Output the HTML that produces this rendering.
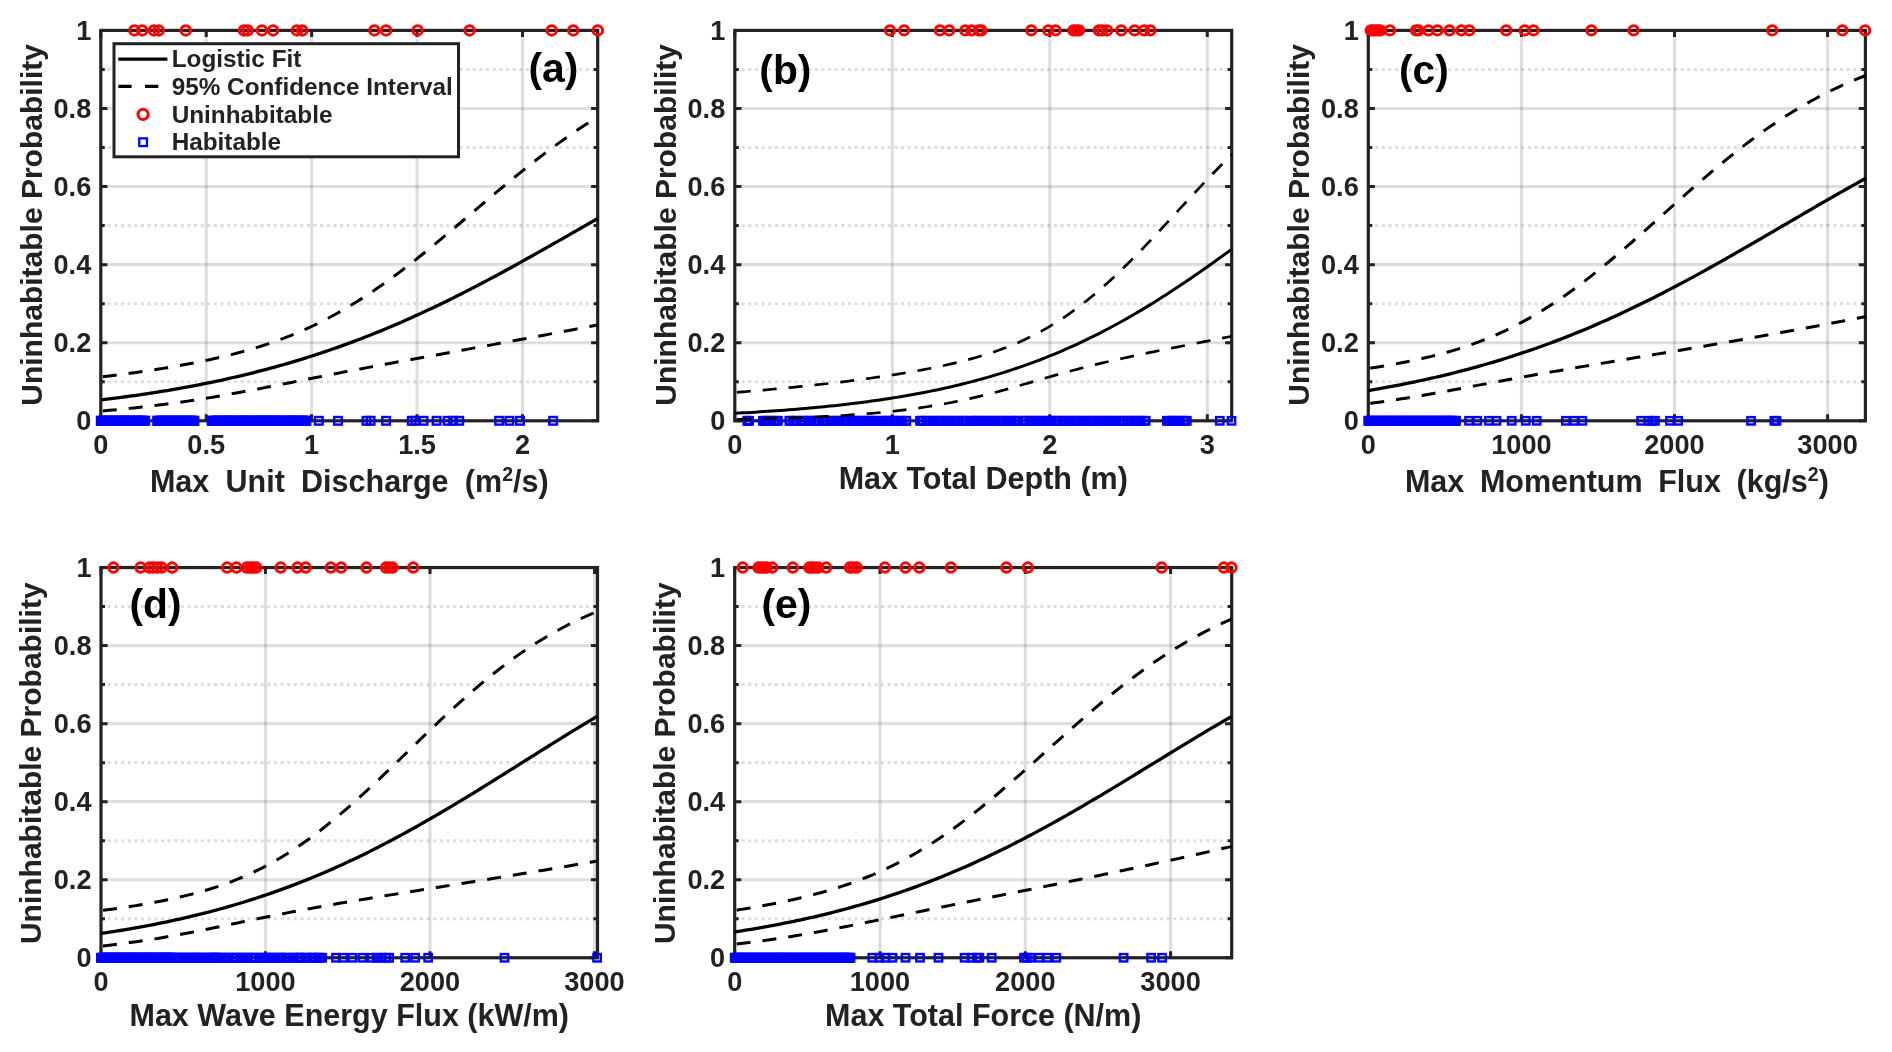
<!DOCTYPE html>
<html lang="en"><head><meta charset="utf-8"><title>Logistic fits</title>
<style>html,body{margin:0;padding:0;background:#fff}svg{display:block;will-change:transform}text{font-family:"Liberation Sans", sans-serif;font-weight:bold}</style></head><body>
<svg width="1892" height="1052" viewBox="0 0 1892 1052">
<rect width="1892" height="1052" fill="#fff"/>
<g id="panel-a">
<line x1="101" y1="381.76" x2="597.7" y2="381.76" stroke="#222222" stroke-opacity=".15" stroke-width="3.1" stroke-dasharray="3.1 3.54"/><line x1="100.8" y1="342.72" x2="597.7" y2="342.72" stroke="#222222" stroke-opacity=".15" stroke-width="3.1"/><line x1="101" y1="303.68" x2="597.7" y2="303.68" stroke="#222222" stroke-opacity=".15" stroke-width="3.1" stroke-dasharray="3.1 3.54"/><line x1="100.8" y1="264.64" x2="597.7" y2="264.64" stroke="#222222" stroke-opacity=".15" stroke-width="3.1"/><line x1="101" y1="225.6" x2="597.7" y2="225.6" stroke="#222222" stroke-opacity=".15" stroke-width="3.1" stroke-dasharray="3.1 3.54"/><line x1="100.8" y1="186.56" x2="597.7" y2="186.56" stroke="#222222" stroke-opacity=".15" stroke-width="3.1"/><line x1="101" y1="147.52" x2="597.7" y2="147.52" stroke="#222222" stroke-opacity=".15" stroke-width="3.1" stroke-dasharray="3.1 3.54"/><line x1="100.8" y1="108.48" x2="597.7" y2="108.48" stroke="#222222" stroke-opacity=".15" stroke-width="3.1"/><line x1="101" y1="69.44" x2="597.7" y2="69.44" stroke="#222222" stroke-opacity=".15" stroke-width="3.1" stroke-dasharray="3.1 3.54"/><line x1="206.22" y1="30.4" x2="206.22" y2="420.8" stroke="#222222" stroke-opacity=".15" stroke-width="3.1"/><line x1="311.65" y1="30.4" x2="311.65" y2="420.8" stroke="#222222" stroke-opacity=".15" stroke-width="3.1"/><line x1="417.07" y1="30.4" x2="417.07" y2="420.8" stroke="#222222" stroke-opacity=".15" stroke-width="3.1"/><line x1="522.5" y1="30.4" x2="522.5" y2="420.8" stroke="#222222" stroke-opacity=".15" stroke-width="3.1"/>
<path d="M100.8 420.8h6.6 M597.7 420.8h-6.6 M100.8 381.76h4 M597.7 381.76h-4 M100.8 342.72h6.6 M597.7 342.72h-6.6 M100.8 303.68h4 M597.7 303.68h-4 M100.8 264.64h6.6 M597.7 264.64h-6.6 M100.8 225.6h4 M597.7 225.6h-4 M100.8 186.56h6.6 M597.7 186.56h-6.6 M100.8 147.52h4 M597.7 147.52h-4 M100.8 108.48h6.6 M597.7 108.48h-6.6 M100.8 69.44h4 M597.7 69.44h-4 M100.8 30.4h6.6 M597.7 30.4h-6.6 M100.8 420.8v-6.5 M100.8 30.4v6.5 M206.22 420.8v-6.5 M206.22 30.4v6.5 M311.65 420.8v-6.5 M311.65 30.4v6.5 M417.07 420.8v-6.5 M417.07 30.4v6.5 M522.5 420.8v-6.5 M522.5 30.4v6.5" stroke="#222222" stroke-width="3" fill="none"/>
<rect x="100.8" y="30.4" width="496.9" height="390.4" fill="none" stroke="#222222" stroke-width="3.2"/>
<g fill="none" stroke="#0000ff" stroke-width="2.4"><rect x="97" y="417" width="7.6" height="7.6"/><rect x="141.4" y="417" width="7.6" height="7.6"/><rect x="97.2" y="417" width="7.6" height="7.6"/><rect x="99.2" y="417" width="7.6" height="7.6"/><rect x="99.8" y="417" width="7.6" height="7.6"/><rect x="101.6" y="417" width="7.6" height="7.6"/><rect x="102.8" y="417" width="7.6" height="7.6"/><rect x="103.7" y="417" width="7.6" height="7.6"/><rect x="104.9" y="417" width="7.6" height="7.6"/><rect x="105.4" y="417" width="7.6" height="7.6"/><rect x="107.7" y="417" width="7.6" height="7.6"/><rect x="108.8" y="417" width="7.6" height="7.6"/><rect x="109.4" y="417" width="7.6" height="7.6"/><rect x="110.3" y="417" width="7.6" height="7.6"/><rect x="111.9" y="417" width="7.6" height="7.6"/><rect x="113.4" y="417" width="7.6" height="7.6"/><rect x="114.8" y="417" width="7.6" height="7.6"/><rect x="115.3" y="417" width="7.6" height="7.6"/><rect x="116.6" y="417" width="7.6" height="7.6"/><rect x="117.7" y="417" width="7.6" height="7.6"/><rect x="119.1" y="417" width="7.6" height="7.6"/><rect x="120" y="417" width="7.6" height="7.6"/><rect x="122" y="417" width="7.6" height="7.6"/><rect x="122.5" y="417" width="7.6" height="7.6"/><rect x="124.1" y="417" width="7.6" height="7.6"/><rect x="124.7" y="417" width="7.6" height="7.6"/><rect x="126.7" y="417" width="7.6" height="7.6"/><rect x="127.1" y="417" width="7.6" height="7.6"/><rect x="128.3" y="417" width="7.6" height="7.6"/><rect x="130" y="417" width="7.6" height="7.6"/><rect x="131.7" y="417" width="7.6" height="7.6"/><rect x="132.5" y="417" width="7.6" height="7.6"/><rect x="133.9" y="417" width="7.6" height="7.6"/><rect x="134.7" y="417" width="7.6" height="7.6"/><rect x="136.6" y="417" width="7.6" height="7.6"/><rect x="136.9" y="417" width="7.6" height="7.6"/><rect x="137.8" y="417" width="7.6" height="7.6"/><rect x="139.7" y="417" width="7.6" height="7.6"/><rect x="140.8" y="417" width="7.6" height="7.6"/><rect x="153.5" y="417" width="7.6" height="7.6"/><rect x="190.6" y="417" width="7.6" height="7.6"/><rect x="153.8" y="417" width="7.6" height="7.6"/><rect x="154.9" y="417" width="7.6" height="7.6"/><rect x="156.8" y="417" width="7.6" height="7.6"/><rect x="157.6" y="417" width="7.6" height="7.6"/><rect x="158.8" y="417" width="7.6" height="7.6"/><rect x="161.1" y="417" width="7.6" height="7.6"/><rect x="162.4" y="417" width="7.6" height="7.6"/><rect x="162.7" y="417" width="7.6" height="7.6"/><rect x="163.7" y="417" width="7.6" height="7.6"/><rect x="166" y="417" width="7.6" height="7.6"/><rect x="166.9" y="417" width="7.6" height="7.6"/><rect x="168.5" y="417" width="7.6" height="7.6"/><rect x="168.9" y="417" width="7.6" height="7.6"/><rect x="171.3" y="417" width="7.6" height="7.6"/><rect x="172.4" y="417" width="7.6" height="7.6"/><rect x="173.8" y="417" width="7.6" height="7.6"/><rect x="174" y="417" width="7.6" height="7.6"/><rect x="175.9" y="417" width="7.6" height="7.6"/><rect x="177.6" y="417" width="7.6" height="7.6"/><rect x="177.9" y="417" width="7.6" height="7.6"/><rect x="179.9" y="417" width="7.6" height="7.6"/><rect x="181.1" y="417" width="7.6" height="7.6"/><rect x="182.4" y="417" width="7.6" height="7.6"/><rect x="183.6" y="417" width="7.6" height="7.6"/><rect x="184.7" y="417" width="7.6" height="7.6"/><rect x="186.5" y="417" width="7.6" height="7.6"/><rect x="187.3" y="417" width="7.6" height="7.6"/><rect x="188.8" y="417" width="7.6" height="7.6"/><rect x="190.3" y="417" width="7.6" height="7.6"/><rect x="207.8" y="417" width="7.6" height="7.6"/><rect x="302.6" y="417" width="7.6" height="7.6"/><rect x="208.5" y="417" width="7.6" height="7.6"/><rect x="209.3" y="417" width="7.6" height="7.6"/><rect x="211.3" y="417" width="7.6" height="7.6"/><rect x="212.6" y="417" width="7.6" height="7.6"/><rect x="212.9" y="417" width="7.6" height="7.6"/><rect x="214" y="417" width="7.6" height="7.6"/><rect x="215.4" y="417" width="7.6" height="7.6"/><rect x="216.8" y="417" width="7.6" height="7.6"/><rect x="218" y="417" width="7.6" height="7.6"/><rect x="219.8" y="417" width="7.6" height="7.6"/><rect x="220.6" y="417" width="7.6" height="7.6"/><rect x="221.7" y="417" width="7.6" height="7.6"/><rect x="222.5" y="417" width="7.6" height="7.6"/><rect x="224" y="417" width="7.6" height="7.6"/><rect x="225.7" y="417" width="7.6" height="7.6"/><rect x="226.5" y="417" width="7.6" height="7.6"/><rect x="227" y="417" width="7.6" height="7.6"/><rect x="228.6" y="417" width="7.6" height="7.6"/><rect x="229.4" y="417" width="7.6" height="7.6"/><rect x="231.2" y="417" width="7.6" height="7.6"/><rect x="232.9" y="417" width="7.6" height="7.6"/><rect x="234" y="417" width="7.6" height="7.6"/><rect x="234.2" y="417" width="7.6" height="7.6"/><rect x="236.4" y="417" width="7.6" height="7.6"/><rect x="236.9" y="417" width="7.6" height="7.6"/><rect x="238.9" y="417" width="7.6" height="7.6"/><rect x="239.4" y="417" width="7.6" height="7.6"/><rect x="241.1" y="417" width="7.6" height="7.6"/><rect x="242" y="417" width="7.6" height="7.6"/><rect x="242.8" y="417" width="7.6" height="7.6"/><rect x="244.4" y="417" width="7.6" height="7.6"/><rect x="246" y="417" width="7.6" height="7.6"/><rect x="246.7" y="417" width="7.6" height="7.6"/><rect x="248" y="417" width="7.6" height="7.6"/><rect x="249.1" y="417" width="7.6" height="7.6"/><rect x="250.9" y="417" width="7.6" height="7.6"/><rect x="251.2" y="417" width="7.6" height="7.6"/><rect x="252.8" y="417" width="7.6" height="7.6"/><rect x="254.3" y="417" width="7.6" height="7.6"/><rect x="255.6" y="417" width="7.6" height="7.6"/><rect x="256.3" y="417" width="7.6" height="7.6"/><rect x="257.4" y="417" width="7.6" height="7.6"/><rect x="259.3" y="417" width="7.6" height="7.6"/><rect x="259.6" y="417" width="7.6" height="7.6"/><rect x="261.7" y="417" width="7.6" height="7.6"/><rect x="262.9" y="417" width="7.6" height="7.6"/><rect x="263" y="417" width="7.6" height="7.6"/><rect x="264.5" y="417" width="7.6" height="7.6"/><rect x="265.6" y="417" width="7.6" height="7.6"/><rect x="266.9" y="417" width="7.6" height="7.6"/><rect x="268.5" y="417" width="7.6" height="7.6"/><rect x="269.9" y="417" width="7.6" height="7.6"/><rect x="270.8" y="417" width="7.6" height="7.6"/><rect x="271.6" y="417" width="7.6" height="7.6"/><rect x="272.7" y="417" width="7.6" height="7.6"/><rect x="274.1" y="417" width="7.6" height="7.6"/><rect x="275.4" y="417" width="7.6" height="7.6"/><rect x="276.4" y="417" width="7.6" height="7.6"/><rect x="277.6" y="417" width="7.6" height="7.6"/><rect x="279.3" y="417" width="7.6" height="7.6"/><rect x="280.3" y="417" width="7.6" height="7.6"/><rect x="281.8" y="417" width="7.6" height="7.6"/><rect x="283.2" y="417" width="7.6" height="7.6"/><rect x="283.5" y="417" width="7.6" height="7.6"/><rect x="284.8" y="417" width="7.6" height="7.6"/><rect x="286.1" y="417" width="7.6" height="7.6"/><rect x="288" y="417" width="7.6" height="7.6"/><rect x="289.2" y="417" width="7.6" height="7.6"/><rect x="289.6" y="417" width="7.6" height="7.6"/><rect x="290.9" y="417" width="7.6" height="7.6"/><rect x="292.3" y="417" width="7.6" height="7.6"/><rect x="293" y="417" width="7.6" height="7.6"/><rect x="294.7" y="417" width="7.6" height="7.6"/><rect x="296.1" y="417" width="7.6" height="7.6"/><rect x="297.2" y="417" width="7.6" height="7.6"/><rect x="298.9" y="417" width="7.6" height="7.6"/><rect x="299.9" y="417" width="7.6" height="7.6"/><rect x="301.3" y="417" width="7.6" height="7.6"/><rect x="301.9" y="417" width="7.6" height="7.6"/><rect x="315" y="417" width="7.6" height="7.6"/><rect x="334.2" y="417" width="7.6" height="7.6"/><rect x="362.7" y="417" width="7.6" height="7.6"/><rect x="366.8" y="417" width="7.6" height="7.6"/><rect x="382.3" y="417" width="7.6" height="7.6"/><rect x="408" y="417" width="7.6" height="7.6"/><rect x="411.5" y="417" width="7.6" height="7.6"/><rect x="419.7" y="417" width="7.6" height="7.6"/><rect x="432.8" y="417" width="7.6" height="7.6"/><rect x="443.8" y="417" width="7.6" height="7.6"/><rect x="449.3" y="417" width="7.6" height="7.6"/><rect x="455.4" y="417" width="7.6" height="7.6"/><rect x="495.3" y="417" width="7.6" height="7.6"/><rect x="505.6" y="417" width="7.6" height="7.6"/><rect x="516.2" y="417" width="7.6" height="7.6"/><rect x="549.3" y="417" width="7.6" height="7.6"/></g>
<g fill="none" stroke="#ff0000" stroke-width="3.0"><circle cx="134.5" cy="30.4" r="4.75"/><circle cx="142.2" cy="30.4" r="4.75"/><circle cx="154" cy="30.4" r="4.75"/><circle cx="158.8" cy="30.4" r="4.75"/><circle cx="185.7" cy="30.4" r="4.75"/><circle cx="243.95" cy="30.4" r="4.75"/><circle cx="247.7" cy="30.4" r="4.75"/><circle cx="262" cy="30.4" r="4.75"/><circle cx="273.1" cy="30.4" r="4.75"/><circle cx="296.9" cy="30.4" r="4.75"/><circle cx="302.3" cy="30.4" r="4.75"/><circle cx="374.5" cy="30.4" r="4.75"/><circle cx="386.1" cy="30.4" r="4.75"/><circle cx="417.6" cy="30.4" r="4.75"/><circle cx="469.6" cy="30.4" r="4.75"/><circle cx="551.7" cy="30.4" r="4.75"/><circle cx="573.3" cy="30.4" r="4.75"/><circle cx="597.8" cy="30.4" r="4.75"/></g>
<path d="M100.8 399.9 L104.94 399.4 L109.08 398.9 L113.22 398.38 L117.36 397.85 L121.5 397.31 L125.64 396.76 L129.79 396.19 L133.93 395.61 L138.07 395.03 L142.21 394.42 L146.35 393.81 L150.49 393.18 L154.63 392.54 L158.77 391.88 L162.91 391.22 L167.05 390.53 L171.19 389.84 L175.33 389.12 L179.47 388.4 L183.61 387.66 L187.76 386.9 L191.9 386.13 L196.04 385.34 L200.18 384.53 L204.32 383.71 L208.46 382.88 L212.6 382.02 L216.74 381.15 L220.88 380.27 L225.02 379.36 L229.16 378.44 L233.3 377.5 L237.44 376.54 L241.59 375.57 L245.73 374.57 L249.87 373.56 L254.01 372.53 L258.15 371.47 L262.29 370.4 L266.43 369.31 L270.57 368.2 L274.71 367.07 L278.85 365.92 L282.99 364.75 L287.13 363.56 L291.27 362.35 L295.41 361.11 L299.56 359.86 L303.7 358.58 L307.84 357.29 L311.98 355.97 L316.12 354.63 L320.26 353.27 L324.4 351.88 L328.54 350.48 L332.68 349.05 L336.82 347.6 L340.96 346.13 L345.1 344.64 L349.24 343.12 L353.39 341.58 L357.53 340.02 L361.67 338.44 L365.81 336.83 L369.95 335.21 L374.09 333.56 L378.23 331.88 L382.37 330.19 L386.51 328.47 L390.65 326.73 L394.79 324.97 L398.93 323.19 L403.07 321.39 L407.21 319.56 L411.36 317.71 L415.5 315.85 L419.64 313.96 L423.78 312.05 L427.92 310.12 L432.06 308.16 L436.2 306.19 L440.34 304.2 L444.48 302.19 L448.62 300.16 L452.76 298.12 L456.9 296.05 L461.04 293.97 L465.19 291.87 L469.33 289.75 L473.47 287.61 L477.61 285.46 L481.75 283.29 L485.89 281.11 L490.03 278.91 L494.17 276.7 L498.31 274.47 L502.45 272.23 L506.59 269.98 L510.73 267.72 L514.87 265.44 L519.02 263.15 L523.16 260.86 L527.3 258.55 L531.44 256.23 L535.58 253.91 L539.72 251.58 L543.86 249.24 L548 246.89 L552.14 244.54 L556.28 242.18 L560.42 239.82 L564.56 237.45 L568.7 235.09 L572.84 232.71 L576.99 230.34 L581.13 227.97 L585.27 225.59 L589.41 223.22 L593.55 220.85 L597.69 218.48" stroke="#000" stroke-width="3.3" fill="none"/><path d="M100.8 377.07 L104.94 376.57 L109.08 376.05 L113.22 375.53 L117.36 374.99 L121.5 374.45 L125.64 373.89 L129.79 373.33 L133.93 372.75 L138.07 372.17 L142.21 371.57 L146.35 370.96 L150.49 370.34 L154.63 369.7 L158.77 369.05 L162.91 368.39 L167.05 367.71 L171.19 367.01 L175.33 366.3 L179.47 365.57 L183.61 364.82 L187.76 364.06 L191.9 363.27 L196.04 362.47 L200.18 361.64 L204.32 360.79 L208.46 359.91 L212.6 359.01 L216.74 358.08 L220.88 357.13 L225.02 356.15 L229.16 355.13 L233.3 354.09 L237.44 353.01 L241.59 351.9 L245.73 350.75 L249.87 349.56 L254.01 348.34 L258.15 347.07 L262.29 345.76 L266.43 344.41 L270.57 343.02 L274.71 341.57 L278.85 340.08 L282.99 338.54 L287.13 336.95 L291.27 335.3 L295.41 333.6 L299.56 331.85 L303.7 330.04 L307.84 328.18 L311.98 326.26 L316.12 324.28 L320.26 322.24 L324.4 320.14 L328.54 317.99 L332.68 315.77 L336.82 313.5 L340.96 311.16 L345.1 308.77 L349.24 306.32 L353.39 303.81 L357.53 301.24 L361.67 298.61 L365.81 295.93 L369.95 293.19 L374.09 290.4 L378.23 287.56 L382.37 284.66 L386.51 281.72 L390.65 278.72 L394.79 275.68 L398.93 272.59 L403.07 269.46 L407.21 266.28 L411.36 263.07 L415.5 259.82 L419.64 256.54 L423.78 253.22 L427.92 249.87 L432.06 246.49 L436.2 243.09 L440.34 239.66 L444.48 236.21 L448.62 232.74 L452.76 229.26 L456.9 225.77 L461.04 222.26 L465.19 218.75 L469.33 215.24 L473.47 211.72 L477.61 208.2 L481.75 204.69 L485.89 201.18 L490.03 197.68 L494.17 194.19 L498.31 190.72 L502.45 187.26 L506.59 183.83 L510.73 180.41 L514.87 177.02 L519.02 173.65 L523.16 170.31 L527.3 167.01 L531.44 163.73 L535.58 160.49 L539.72 157.28 L543.86 154.12 L548 150.99 L552.14 147.9 L556.28 144.86 L560.42 141.86 L564.56 138.91 L568.7 136 L572.84 133.14 L576.99 130.32 L581.13 127.56 L585.27 124.84 L589.41 122.18 L593.55 119.57 L597.69 117" stroke="#000" stroke-width="3.0" fill="none" stroke-dasharray="14 12" stroke-dashoffset="-2"/><path d="M100.8 411.07 L104.94 410.72 L109.08 410.36 L113.22 409.99 L117.36 409.61 L121.5 409.21 L125.64 408.8 L129.79 408.38 L133.93 407.95 L138.07 407.5 L142.21 407.04 L146.35 406.57 L150.49 406.09 L154.63 405.59 L158.77 405.08 L162.91 404.55 L167.05 404.01 L171.19 403.46 L175.33 402.89 L179.47 402.31 L183.61 401.72 L187.76 401.11 L191.9 400.49 L196.04 399.85 L200.18 399.2 L204.32 398.54 L208.46 397.87 L212.6 397.18 L216.74 396.48 L220.88 395.77 L225.02 395.04 L229.16 394.31 L233.3 393.57 L237.44 392.81 L241.59 392.05 L245.73 391.28 L249.87 390.5 L254.01 389.71 L258.15 388.92 L262.29 388.12 L266.43 387.32 L270.57 386.51 L274.71 385.7 L278.85 384.88 L282.99 384.06 L287.13 383.24 L291.27 382.42 L295.41 381.6 L299.56 380.78 L303.7 379.95 L307.84 379.13 L311.98 378.32 L316.12 377.5 L320.26 376.68 L324.4 375.87 L328.54 375.06 L332.68 374.25 L336.82 373.45 L340.96 372.64 L345.1 371.84 L349.24 371.05 L353.39 370.26 L357.53 369.47 L361.67 368.68 L365.81 367.9 L369.95 367.11 L374.09 366.34 L378.23 365.56 L382.37 364.79 L386.51 364.02 L390.65 363.25 L394.79 362.49 L398.93 361.72 L403.07 360.96 L407.21 360.2 L411.36 359.44 L415.5 358.68 L419.64 357.93 L423.78 357.17 L427.92 356.42 L432.06 355.66 L436.2 354.91 L440.34 354.16 L444.48 353.41 L448.62 352.65 L452.76 351.9 L456.9 351.15 L461.04 350.4 L465.19 349.65 L469.33 348.89 L473.47 348.14 L477.61 347.38 L481.75 346.63 L485.89 345.87 L490.03 345.12 L494.17 344.36 L498.31 343.6 L502.45 342.84 L506.59 342.08 L510.73 341.32 L514.87 340.55 L519.02 339.79 L523.16 339.02 L527.3 338.25 L531.44 337.48 L535.58 336.71 L539.72 335.93 L543.86 335.16 L548 334.38 L552.14 333.6 L556.28 332.82 L560.42 332.04 L564.56 331.25 L568.7 330.46 L572.84 329.67 L576.99 328.88 L581.13 328.09 L585.27 327.29 L589.41 326.49 L593.55 325.69 L597.69 324.89" stroke="#000" stroke-width="3.0" fill="none" stroke-dasharray="14 12" stroke-dashoffset="-2"/>
<g font-size="27.2" fill="#222222"><text x="100.8" y="454.3" text-anchor="middle">0</text><text x="206.22" y="454.3" text-anchor="middle">0.5</text><text x="311.65" y="454.3" text-anchor="middle">1</text><text x="417.07" y="454.3" text-anchor="middle">1.5</text><text x="522.5" y="454.3" text-anchor="middle">2</text><text x="91.3" y="430" text-anchor="end">0</text><text x="91.3" y="351.92" text-anchor="end">0.2</text><text x="91.3" y="273.84" text-anchor="end">0.4</text><text x="91.3" y="195.76" text-anchor="end">0.6</text><text x="91.3" y="117.68" text-anchor="end">0.8</text><text x="91.3" y="39.6" text-anchor="end">1</text></g>
<text x="349.25" y="492" font-size="30.5" fill="#222222" text-anchor="middle" word-spacing="7.8">Max Unit Discharge (m<tspan dy="-10.9" font-size="19.5">2</tspan><tspan dy="10.9">/s)</tspan></text>
<text transform="translate(41.8 224.9) rotate(-90)" font-size="30" fill="#222222" text-anchor="middle">Uninhabitable Probability</text>
<text x="528.4" y="82" font-size="40.8" fill="#000">(a)</text>
<g id="legend">
<rect x="114" y="43.7" width="344.5" height="113.1" fill="#fff" stroke="#222222" stroke-width="3"/>
<line x1="118.3" y1="59.1" x2="167.4" y2="59.1" stroke="#000" stroke-width="3.3"/>
<path d="M118.3 86.4h13.3M145 86.4h13.3" stroke="#000" stroke-width="3.3"/>
<circle cx="143.1" cy="114.3" r="5.1" fill="none" stroke="#f00" stroke-width="3"/>
<rect x="139.25" y="138.35" width="7.7" height="7.7" fill="none" stroke="#00f" stroke-width="2.3"/>
<g font-size="24.32" fill="#222222"><text x="171.7" y="67.15">Logistic Fit</text><text x="171.7" y="94.95">95% Confidence Interval</text><text x="171.7" y="122.65">Uninhabitable</text><text x="171.7" y="150.15">Habitable</text></g>
</g>
</g>
<g id="panel-b">
<line x1="735" y1="381.76" x2="1231.7" y2="381.76" stroke="#222222" stroke-opacity=".15" stroke-width="3.1" stroke-dasharray="3.1 3.54"/><line x1="734.8" y1="342.72" x2="1231.7" y2="342.72" stroke="#222222" stroke-opacity=".15" stroke-width="3.1"/><line x1="735" y1="303.68" x2="1231.7" y2="303.68" stroke="#222222" stroke-opacity=".15" stroke-width="3.1" stroke-dasharray="3.1 3.54"/><line x1="734.8" y1="264.64" x2="1231.7" y2="264.64" stroke="#222222" stroke-opacity=".15" stroke-width="3.1"/><line x1="735" y1="225.6" x2="1231.7" y2="225.6" stroke="#222222" stroke-opacity=".15" stroke-width="3.1" stroke-dasharray="3.1 3.54"/><line x1="734.8" y1="186.56" x2="1231.7" y2="186.56" stroke="#222222" stroke-opacity=".15" stroke-width="3.1"/><line x1="735" y1="147.52" x2="1231.7" y2="147.52" stroke="#222222" stroke-opacity=".15" stroke-width="3.1" stroke-dasharray="3.1 3.54"/><line x1="734.8" y1="108.48" x2="1231.7" y2="108.48" stroke="#222222" stroke-opacity=".15" stroke-width="3.1"/><line x1="735" y1="69.44" x2="1231.7" y2="69.44" stroke="#222222" stroke-opacity=".15" stroke-width="3.1" stroke-dasharray="3.1 3.54"/><line x1="892.3" y1="30.4" x2="892.3" y2="420.8" stroke="#222222" stroke-opacity=".15" stroke-width="3.1"/><line x1="1049.8" y1="30.4" x2="1049.8" y2="420.8" stroke="#222222" stroke-opacity=".15" stroke-width="3.1"/><line x1="1207.3" y1="30.4" x2="1207.3" y2="420.8" stroke="#222222" stroke-opacity=".15" stroke-width="3.1"/>
<path d="M734.8 420.8h6.6 M1231.7 420.8h-6.6 M734.8 381.76h4 M1231.7 381.76h-4 M734.8 342.72h6.6 M1231.7 342.72h-6.6 M734.8 303.68h4 M1231.7 303.68h-4 M734.8 264.64h6.6 M1231.7 264.64h-6.6 M734.8 225.6h4 M1231.7 225.6h-4 M734.8 186.56h6.6 M1231.7 186.56h-6.6 M734.8 147.52h4 M1231.7 147.52h-4 M734.8 108.48h6.6 M1231.7 108.48h-6.6 M734.8 69.44h4 M1231.7 69.44h-4 M734.8 30.4h6.6 M1231.7 30.4h-6.6 M734.8 420.8v-6.5 M734.8 30.4v6.5 M892.3 420.8v-6.5 M892.3 30.4v6.5 M1049.8 420.8v-6.5 M1049.8 30.4v6.5 M1207.3 420.8v-6.5 M1207.3 30.4v6.5" stroke="#222222" stroke-width="3" fill="none"/>
<rect x="734.8" y="30.4" width="496.9" height="390.4" fill="none" stroke="#222222" stroke-width="3.2"/>
<g fill="none" stroke="#0000ff" stroke-width="2.4"><rect x="743.6" y="417.1" width="7.4" height="7.4"/><rect x="745.4" y="417.1" width="7.4" height="7.4"/><rect x="744.2" y="417.1" width="7.4" height="7.4"/><rect x="759.1" y="417.1" width="7.4" height="7.4"/><rect x="774.2" y="417.1" width="7.4" height="7.4"/><rect x="761.2" y="417.1" width="7.4" height="7.4"/><rect x="762.5" y="417.1" width="7.4" height="7.4"/><rect x="764.3" y="417.1" width="7.4" height="7.4"/><rect x="767.8" y="417.1" width="7.4" height="7.4"/><rect x="771" y="417.1" width="7.4" height="7.4"/><rect x="773.4" y="417.1" width="7.4" height="7.4"/><rect x="785.8" y="417.1" width="7.4" height="7.4"/><rect x="902.5" y="417.1" width="7.4" height="7.4"/><rect x="786" y="417.1" width="7.4" height="7.4"/><rect x="789.4" y="417.1" width="7.4" height="7.4"/><rect x="791" y="417.1" width="7.4" height="7.4"/><rect x="793" y="417.1" width="7.4" height="7.4"/><rect x="797.7" y="417.1" width="7.4" height="7.4"/><rect x="799.4" y="417.1" width="7.4" height="7.4"/><rect x="800.9" y="417.1" width="7.4" height="7.4"/><rect x="804.3" y="417.1" width="7.4" height="7.4"/><rect x="806.7" y="417.1" width="7.4" height="7.4"/><rect x="807.3" y="417.1" width="7.4" height="7.4"/><rect x="810.5" y="417.1" width="7.4" height="7.4"/><rect x="812.7" y="417.1" width="7.4" height="7.4"/><rect x="814.5" y="417.1" width="7.4" height="7.4"/><rect x="818.5" y="417.1" width="7.4" height="7.4"/><rect x="821.2" y="417.1" width="7.4" height="7.4"/><rect x="822.7" y="417.1" width="7.4" height="7.4"/><rect x="825.9" y="417.1" width="7.4" height="7.4"/><rect x="827.6" y="417.1" width="7.4" height="7.4"/><rect x="829.6" y="417.1" width="7.4" height="7.4"/><rect x="832.4" y="417.1" width="7.4" height="7.4"/><rect x="835.4" y="417.1" width="7.4" height="7.4"/><rect x="836.5" y="417.1" width="7.4" height="7.4"/><rect x="839.4" y="417.1" width="7.4" height="7.4"/><rect x="840.9" y="417.1" width="7.4" height="7.4"/><rect x="844.2" y="417.1" width="7.4" height="7.4"/><rect x="847" y="417.1" width="7.4" height="7.4"/><rect x="848.7" y="417.1" width="7.4" height="7.4"/><rect x="850.3" y="417.1" width="7.4" height="7.4"/><rect x="854.6" y="417.1" width="7.4" height="7.4"/><rect x="856.7" y="417.1" width="7.4" height="7.4"/><rect x="859.2" y="417.1" width="7.4" height="7.4"/><rect x="860" y="417.1" width="7.4" height="7.4"/><rect x="864.4" y="417.1" width="7.4" height="7.4"/><rect x="865.6" y="417.1" width="7.4" height="7.4"/><rect x="867.2" y="417.1" width="7.4" height="7.4"/><rect x="869.9" y="417.1" width="7.4" height="7.4"/><rect x="871.7" y="417.1" width="7.4" height="7.4"/><rect x="875.8" y="417.1" width="7.4" height="7.4"/><rect x="878.6" y="417.1" width="7.4" height="7.4"/><rect x="880.9" y="417.1" width="7.4" height="7.4"/><rect x="882.8" y="417.1" width="7.4" height="7.4"/><rect x="884.7" y="417.1" width="7.4" height="7.4"/><rect x="886.7" y="417.1" width="7.4" height="7.4"/><rect x="889.8" y="417.1" width="7.4" height="7.4"/><rect x="890.6" y="417.1" width="7.4" height="7.4"/><rect x="893.1" y="417.1" width="7.4" height="7.4"/><rect x="896.6" y="417.1" width="7.4" height="7.4"/><rect x="898.5" y="417.1" width="7.4" height="7.4"/><rect x="902.5" y="417.1" width="7.4" height="7.4"/><rect x="916.3" y="417.1" width="7.4" height="7.4"/><rect x="1141.9" y="417.1" width="7.4" height="7.4"/><rect x="918" y="417.1" width="7.4" height="7.4"/><rect x="918.9" y="417.1" width="7.4" height="7.4"/><rect x="922.8" y="417.1" width="7.4" height="7.4"/><rect x="923.9" y="417.1" width="7.4" height="7.4"/><rect x="928.7" y="417.1" width="7.4" height="7.4"/><rect x="930.6" y="417.1" width="7.4" height="7.4"/><rect x="933.3" y="417.1" width="7.4" height="7.4"/><rect x="934.7" y="417.1" width="7.4" height="7.4"/><rect x="936.4" y="417.1" width="7.4" height="7.4"/><rect x="940.7" y="417.1" width="7.4" height="7.4"/><rect x="943.1" y="417.1" width="7.4" height="7.4"/><rect x="944.7" y="417.1" width="7.4" height="7.4"/><rect x="946.9" y="417.1" width="7.4" height="7.4"/><rect x="951" y="417.1" width="7.4" height="7.4"/><rect x="952.2" y="417.1" width="7.4" height="7.4"/><rect x="955.6" y="417.1" width="7.4" height="7.4"/><rect x="958.6" y="417.1" width="7.4" height="7.4"/><rect x="960.6" y="417.1" width="7.4" height="7.4"/><rect x="961.7" y="417.1" width="7.4" height="7.4"/><rect x="966.1" y="417.1" width="7.4" height="7.4"/><rect x="968.9" y="417.1" width="7.4" height="7.4"/><rect x="971.1" y="417.1" width="7.4" height="7.4"/><rect x="973.1" y="417.1" width="7.4" height="7.4"/><rect x="974.2" y="417.1" width="7.4" height="7.4"/><rect x="976.7" y="417.1" width="7.4" height="7.4"/><rect x="980.9" y="417.1" width="7.4" height="7.4"/><rect x="981.8" y="417.1" width="7.4" height="7.4"/><rect x="986.2" y="417.1" width="7.4" height="7.4"/><rect x="987" y="417.1" width="7.4" height="7.4"/><rect x="990.1" y="417.1" width="7.4" height="7.4"/><rect x="992.1" y="417.1" width="7.4" height="7.4"/><rect x="995.7" y="417.1" width="7.4" height="7.4"/><rect x="998.2" y="417.1" width="7.4" height="7.4"/><rect x="999.7" y="417.1" width="7.4" height="7.4"/><rect x="1002.7" y="417.1" width="7.4" height="7.4"/><rect x="1005.2" y="417.1" width="7.4" height="7.4"/><rect x="1008.1" y="417.1" width="7.4" height="7.4"/><rect x="1011.3" y="417.1" width="7.4" height="7.4"/><rect x="1012.6" y="417.1" width="7.4" height="7.4"/><rect x="1014.1" y="417.1" width="7.4" height="7.4"/><rect x="1018.9" y="417.1" width="7.4" height="7.4"/><rect x="1020.9" y="417.1" width="7.4" height="7.4"/><rect x="1022" y="417.1" width="7.4" height="7.4"/><rect x="1025.8" y="417.1" width="7.4" height="7.4"/><rect x="1026.7" y="417.1" width="7.4" height="7.4"/><rect x="1031.6" y="417.1" width="7.4" height="7.4"/><rect x="1032.3" y="417.1" width="7.4" height="7.4"/><rect x="1036" y="417.1" width="7.4" height="7.4"/><rect x="1037.5" y="417.1" width="7.4" height="7.4"/><rect x="1040.6" y="417.1" width="7.4" height="7.4"/><rect x="1043" y="417.1" width="7.4" height="7.4"/><rect x="1046.6" y="417.1" width="7.4" height="7.4"/><rect x="1047.8" y="417.1" width="7.4" height="7.4"/><rect x="1051.2" y="417.1" width="7.4" height="7.4"/><rect x="1052.9" y="417.1" width="7.4" height="7.4"/><rect x="1055" y="417.1" width="7.4" height="7.4"/><rect x="1058.7" y="417.1" width="7.4" height="7.4"/><rect x="1059.5" y="417.1" width="7.4" height="7.4"/><rect x="1062.1" y="417.1" width="7.4" height="7.4"/><rect x="1065" y="417.1" width="7.4" height="7.4"/><rect x="1068" y="417.1" width="7.4" height="7.4"/><rect x="1070.7" y="417.1" width="7.4" height="7.4"/><rect x="1072.2" y="417.1" width="7.4" height="7.4"/><rect x="1074.2" y="417.1" width="7.4" height="7.4"/><rect x="1077.9" y="417.1" width="7.4" height="7.4"/><rect x="1079.4" y="417.1" width="7.4" height="7.4"/><rect x="1083.1" y="417.1" width="7.4" height="7.4"/><rect x="1086.7" y="417.1" width="7.4" height="7.4"/><rect x="1088.8" y="417.1" width="7.4" height="7.4"/><rect x="1089.6" y="417.1" width="7.4" height="7.4"/><rect x="1093.3" y="417.1" width="7.4" height="7.4"/><rect x="1095.1" y="417.1" width="7.4" height="7.4"/><rect x="1098.8" y="417.1" width="7.4" height="7.4"/><rect x="1100.8" y="417.1" width="7.4" height="7.4"/><rect x="1102.8" y="417.1" width="7.4" height="7.4"/><rect x="1105" y="417.1" width="7.4" height="7.4"/><rect x="1107.2" y="417.1" width="7.4" height="7.4"/><rect x="1110.9" y="417.1" width="7.4" height="7.4"/><rect x="1112.4" y="417.1" width="7.4" height="7.4"/><rect x="1116" y="417.1" width="7.4" height="7.4"/><rect x="1119.2" y="417.1" width="7.4" height="7.4"/><rect x="1120.2" y="417.1" width="7.4" height="7.4"/><rect x="1123.5" y="417.1" width="7.4" height="7.4"/><rect x="1126.1" y="417.1" width="7.4" height="7.4"/><rect x="1128.2" y="417.1" width="7.4" height="7.4"/><rect x="1131.8" y="417.1" width="7.4" height="7.4"/><rect x="1131.9" y="417.1" width="7.4" height="7.4"/><rect x="1135.5" y="417.1" width="7.4" height="7.4"/><rect x="1137.3" y="417.1" width="7.4" height="7.4"/><rect x="1141.5" y="417.1" width="7.4" height="7.4"/><rect x="1163.2" y="417.1" width="7.4" height="7.4"/><rect x="1183.1" y="417.1" width="7.4" height="7.4"/><rect x="1164.9" y="417.1" width="7.4" height="7.4"/><rect x="1167.6" y="417.1" width="7.4" height="7.4"/><rect x="1169.5" y="417.1" width="7.4" height="7.4"/><rect x="1170.7" y="417.1" width="7.4" height="7.4"/><rect x="1173.3" y="417.1" width="7.4" height="7.4"/><rect x="1176.7" y="417.1" width="7.4" height="7.4"/><rect x="1180.5" y="417.1" width="7.4" height="7.4"/><rect x="1180.9" y="417.1" width="7.4" height="7.4"/><rect x="1216.1" y="417.1" width="7.4" height="7.4"/><rect x="1227.8" y="417.1" width="7.4" height="7.4"/></g>
<g fill="none" stroke="#ff0000" stroke-width="3.0"><circle cx="890" cy="30.4" r="4.65"/><circle cx="904.1" cy="30.4" r="4.65"/><circle cx="939.9" cy="30.4" r="4.65"/><circle cx="949.2" cy="30.4" r="4.65"/><circle cx="965.3" cy="30.4" r="4.65"/><circle cx="971.5" cy="30.4" r="4.65"/><circle cx="979" cy="30.4" r="4.65"/><circle cx="981.4" cy="30.4" r="4.65"/><circle cx="1031.3" cy="30.4" r="4.65"/><circle cx="1048.3" cy="30.4" r="4.65"/><circle cx="1055.6" cy="30.4" r="4.65"/><circle cx="1073.4" cy="30.4" r="4.65"/><circle cx="1076.2" cy="30.4" r="4.65"/><circle cx="1079" cy="30.4" r="4.65"/><circle cx="1098.9" cy="30.4" r="4.65"/><circle cx="1102.3" cy="30.4" r="4.65"/><circle cx="1107.1" cy="30.4" r="4.65"/><circle cx="1121.3" cy="30.4" r="4.65"/><circle cx="1134.6" cy="30.4" r="4.65"/><circle cx="1144.2" cy="30.4" r="4.65"/><circle cx="1150.4" cy="30.4" r="4.65"/></g>
<path d="M734.8 413.32 L738.94 413.1 L743.09 412.87 L747.23 412.63 L751.37 412.38 L755.52 412.13 L759.66 411.87 L763.8 411.6 L767.95 411.33 L772.09 411.04 L776.24 410.75 L780.38 410.45 L784.52 410.14 L788.67 409.82 L792.81 409.49 L796.95 409.16 L801.1 408.81 L805.24 408.45 L809.38 408.08 L813.53 407.71 L817.67 407.32 L821.81 406.92 L825.96 406.5 L830.1 406.08 L834.25 405.64 L838.39 405.19 L842.53 404.73 L846.68 404.25 L850.82 403.77 L854.96 403.26 L859.11 402.74 L863.25 402.21 L867.39 401.67 L871.54 401.1 L875.68 400.52 L879.82 399.93 L883.97 399.32 L888.11 398.69 L892.26 398.04 L896.4 397.38 L900.54 396.7 L904.69 396 L908.83 395.28 L912.97 394.54 L917.12 393.78 L921.26 393 L925.4 392.2 L929.55 391.37 L933.69 390.53 L937.83 389.66 L941.98 388.77 L946.12 387.86 L950.27 386.92 L954.41 385.96 L958.55 384.97 L962.7 383.96 L966.84 382.92 L970.98 381.85 L975.13 380.76 L979.27 379.64 L983.41 378.5 L987.56 377.32 L991.7 376.12 L995.84 374.88 L999.99 373.62 L1004.13 372.33 L1008.28 371 L1012.42 369.64 L1016.56 368.26 L1020.71 366.84 L1024.85 365.39 L1028.99 363.9 L1033.14 362.38 L1037.28 360.83 L1041.42 359.24 L1045.57 357.62 L1049.71 355.97 L1053.85 354.27 L1058 352.55 L1062.14 350.79 L1066.28 348.99 L1070.43 347.15 L1074.57 345.28 L1078.72 343.37 L1082.86 341.43 L1087 339.45 L1091.15 337.43 L1095.29 335.38 L1099.43 333.29 L1103.58 331.16 L1107.72 328.99 L1111.86 326.79 L1116.01 324.55 L1120.15 322.28 L1124.29 319.97 L1128.44 317.62 L1132.58 315.24 L1136.73 312.82 L1140.87 310.37 L1145.01 307.88 L1149.16 305.36 L1153.3 302.81 L1157.44 300.22 L1161.59 297.6 L1165.73 294.95 L1169.87 292.27 L1174.02 289.56 L1178.16 286.83 L1182.3 284.06 L1186.45 281.27 L1190.59 278.45 L1194.74 275.6 L1198.88 272.74 L1203.02 269.85 L1207.17 266.93 L1211.31 264 L1215.45 261.05 L1219.6 258.08 L1223.74 255.09 L1227.88 252.09 L1232.03 249.08" stroke="#000" stroke-width="3.0" fill="none"/><path d="M734.8 392.52 L738.94 392.18 L743.09 391.84 L747.23 391.49 L751.37 391.13 L755.52 390.77 L759.66 390.41 L763.8 390.04 L767.95 389.66 L772.09 389.28 L776.24 388.89 L780.38 388.5 L784.52 388.1 L788.67 387.7 L792.81 387.29 L796.95 386.87 L801.1 386.45 L805.24 386.02 L809.38 385.58 L813.53 385.13 L817.67 384.68 L821.81 384.22 L825.96 383.76 L830.1 383.28 L834.25 382.8 L838.39 382.3 L842.53 381.8 L846.68 381.29 L850.82 380.77 L854.96 380.24 L859.11 379.71 L863.25 379.16 L867.39 378.59 L871.54 378.02 L875.68 377.44 L879.82 376.84 L883.97 376.23 L888.11 375.61 L892.26 374.97 L896.4 374.32 L900.54 373.65 L904.69 372.97 L908.83 372.27 L912.97 371.55 L917.12 370.81 L921.26 370.05 L925.4 369.27 L929.55 368.47 L933.69 367.65 L937.83 366.8 L941.98 365.92 L946.12 365.02 L950.27 364.08 L954.41 363.12 L958.55 362.12 L962.7 361.09 L966.84 360.01 L970.98 358.9 L975.13 357.75 L979.27 356.55 L983.41 355.3 L987.56 354.01 L991.7 352.66 L995.84 351.25 L999.99 349.78 L1004.13 348.25 L1008.28 346.66 L1012.42 345 L1016.56 343.26 L1020.71 341.45 L1024.85 339.56 L1028.99 337.59 L1033.14 335.53 L1037.28 333.39 L1041.42 331.16 L1045.57 328.84 L1049.71 326.43 L1053.85 323.92 L1058 321.32 L1062.14 318.62 L1066.28 315.83 L1070.43 312.94 L1074.57 309.95 L1078.72 306.87 L1082.86 303.69 L1087 300.42 L1091.15 297.06 L1095.29 293.6 L1099.43 290.06 L1103.58 286.43 L1107.72 282.72 L1111.86 278.92 L1116.01 275.05 L1120.15 271.11 L1124.29 267.09 L1128.44 263.01 L1132.58 258.87 L1136.73 254.67 L1140.87 250.42 L1145.01 246.12 L1149.16 241.78 L1153.3 237.4 L1157.44 232.98 L1161.59 228.55 L1165.73 224.09 L1169.87 219.61 L1174.02 215.12 L1178.16 210.63 L1182.3 206.15 L1186.45 201.67 L1190.59 197.2 L1194.74 192.75 L1198.88 188.32 L1203.02 183.92 L1207.17 179.56 L1211.31 175.23 L1215.45 170.95 L1219.6 166.71 L1223.74 162.53 L1227.88 158.4 L1232.03 154.33" stroke="#000" stroke-width="2.7" fill="none" stroke-dasharray="14 12" stroke-dashoffset="-2"/><path d="M734.8 419.36 L738.94 419.28 L743.09 419.2 L747.23 419.12 L751.37 419.04 L755.52 418.94 L759.66 418.85 L763.8 418.75 L767.95 418.64 L772.09 418.53 L776.24 418.42 L780.38 418.29 L784.52 418.16 L788.67 418.03 L792.81 417.89 L796.95 417.74 L801.1 417.58 L805.24 417.42 L809.38 417.24 L813.53 417.06 L817.67 416.87 L821.81 416.67 L825.96 416.46 L830.1 416.24 L834.25 416.01 L838.39 415.77 L842.53 415.52 L846.68 415.25 L850.82 414.97 L854.96 414.68 L859.11 414.37 L863.25 414.05 L867.39 413.72 L871.54 413.36 L875.68 412.99 L879.82 412.61 L883.97 412.2 L888.11 411.78 L892.26 411.34 L896.4 410.88 L900.54 410.39 L904.69 409.89 L908.83 409.36 L912.97 408.81 L917.12 408.24 L921.26 407.64 L925.4 407.02 L929.55 406.37 L933.69 405.7 L937.83 404.99 L941.98 404.27 L946.12 403.51 L950.27 402.72 L954.41 401.91 L958.55 401.06 L962.7 400.19 L966.84 399.29 L970.98 398.36 L975.13 397.4 L979.27 396.42 L983.41 395.4 L987.56 394.36 L991.7 393.3 L995.84 392.21 L999.99 391.1 L1004.13 389.96 L1008.28 388.81 L1012.42 387.64 L1016.56 386.46 L1020.71 385.27 L1024.85 384.07 L1028.99 382.86 L1033.14 381.65 L1037.28 380.44 L1041.42 379.23 L1045.57 378.03 L1049.71 376.84 L1053.85 375.65 L1058 374.48 L1062.14 373.32 L1066.28 372.18 L1070.43 371.05 L1074.57 369.95 L1078.72 368.86 L1082.86 367.78 L1087 366.73 L1091.15 365.69 L1095.29 364.67 L1099.43 363.67 L1103.58 362.68 L1107.72 361.71 L1111.86 360.76 L1116.01 359.82 L1120.15 358.89 L1124.29 357.97 L1128.44 357.07 L1132.58 356.17 L1136.73 355.29 L1140.87 354.41 L1145.01 353.55 L1149.16 352.69 L1153.3 351.83 L1157.44 350.99 L1161.59 350.14 L1165.73 349.31 L1169.87 348.47 L1174.02 347.65 L1178.16 346.82 L1182.3 346 L1186.45 345.18 L1190.59 344.36 L1194.74 343.54 L1198.88 342.73 L1203.02 341.91 L1207.17 341.1 L1211.31 340.28 L1215.45 339.47 L1219.6 338.66 L1223.74 337.84 L1227.88 337.03 L1232.03 336.21" stroke="#000" stroke-width="2.7" fill="none" stroke-dasharray="14 12" stroke-dashoffset="-2"/>
<g font-size="27.2" fill="#222222"><text x="734.8" y="454.3" text-anchor="middle">0</text><text x="892.3" y="454.3" text-anchor="middle">1</text><text x="1049.8" y="454.3" text-anchor="middle">2</text><text x="1207.3" y="454.3" text-anchor="middle">3</text><text x="725.3" y="430" text-anchor="end">0</text><text x="725.3" y="351.92" text-anchor="end">0.2</text><text x="725.3" y="273.84" text-anchor="end">0.4</text><text x="725.3" y="195.76" text-anchor="end">0.6</text><text x="725.3" y="117.68" text-anchor="end">0.8</text><text x="725.3" y="39.6" text-anchor="end">1</text></g>
<text x="983.25" y="488.6" font-size="30.5" fill="#222222" text-anchor="middle">Max Total Depth (m)</text>
<text transform="translate(675.8 224.9) rotate(-90)" font-size="30" fill="#222222" text-anchor="middle">Uninhabitable Probability</text>
<text x="759.3" y="83.7" font-size="40.8" fill="#000">(b)</text>
</g>
<g id="panel-c">
<line x1="1368.5" y1="381.76" x2="1865.4" y2="381.76" stroke="#222222" stroke-opacity=".15" stroke-width="3.1" stroke-dasharray="3.1 3.54"/><line x1="1368.3" y1="342.72" x2="1865.4" y2="342.72" stroke="#222222" stroke-opacity=".15" stroke-width="3.1"/><line x1="1368.5" y1="303.68" x2="1865.4" y2="303.68" stroke="#222222" stroke-opacity=".15" stroke-width="3.1" stroke-dasharray="3.1 3.54"/><line x1="1368.3" y1="264.64" x2="1865.4" y2="264.64" stroke="#222222" stroke-opacity=".15" stroke-width="3.1"/><line x1="1368.5" y1="225.6" x2="1865.4" y2="225.6" stroke="#222222" stroke-opacity=".15" stroke-width="3.1" stroke-dasharray="3.1 3.54"/><line x1="1368.3" y1="186.56" x2="1865.4" y2="186.56" stroke="#222222" stroke-opacity=".15" stroke-width="3.1"/><line x1="1368.5" y1="147.52" x2="1865.4" y2="147.52" stroke="#222222" stroke-opacity=".15" stroke-width="3.1" stroke-dasharray="3.1 3.54"/><line x1="1368.3" y1="108.48" x2="1865.4" y2="108.48" stroke="#222222" stroke-opacity=".15" stroke-width="3.1"/><line x1="1368.5" y1="69.44" x2="1865.4" y2="69.44" stroke="#222222" stroke-opacity=".15" stroke-width="3.1" stroke-dasharray="3.1 3.54"/><line x1="1521.4" y1="30.4" x2="1521.4" y2="420.8" stroke="#222222" stroke-opacity=".15" stroke-width="3.1"/><line x1="1674.5" y1="30.4" x2="1674.5" y2="420.8" stroke="#222222" stroke-opacity=".15" stroke-width="3.1"/><line x1="1827.6" y1="30.4" x2="1827.6" y2="420.8" stroke="#222222" stroke-opacity=".15" stroke-width="3.1"/>
<path d="M1368.3 420.8h6.6 M1865.4 420.8h-6.6 M1368.3 381.76h4 M1865.4 381.76h-4 M1368.3 342.72h6.6 M1865.4 342.72h-6.6 M1368.3 303.68h4 M1865.4 303.68h-4 M1368.3 264.64h6.6 M1865.4 264.64h-6.6 M1368.3 225.6h4 M1865.4 225.6h-4 M1368.3 186.56h6.6 M1865.4 186.56h-6.6 M1368.3 147.52h4 M1865.4 147.52h-4 M1368.3 108.48h6.6 M1865.4 108.48h-6.6 M1368.3 69.44h4 M1865.4 69.44h-4 M1368.3 30.4h6.6 M1865.4 30.4h-6.6 M1368.3 420.8v-6.5 M1368.3 30.4v6.5 M1521.4 420.8v-6.5 M1521.4 30.4v6.5 M1674.5 420.8v-6.5 M1674.5 30.4v6.5 M1827.6 420.8v-6.5 M1827.6 30.4v6.5" stroke="#222222" stroke-width="3" fill="none"/>
<rect x="1368.3" y="30.4" width="497.1" height="390.4" fill="none" stroke="#222222" stroke-width="3.2"/>
<g fill="none" stroke="#0000ff" stroke-width="2.4"><rect x="1364.6" y="417.1" width="7.4" height="7.4"/><rect x="1452.3" y="417.1" width="7.4" height="7.4"/><rect x="1365" y="417.1" width="7.4" height="7.4"/><rect x="1365.9" y="417.1" width="7.4" height="7.4"/><rect x="1367" y="417.1" width="7.4" height="7.4"/><rect x="1368.2" y="417.1" width="7.4" height="7.4"/><rect x="1369.8" y="417.1" width="7.4" height="7.4"/><rect x="1370.4" y="417.1" width="7.4" height="7.4"/><rect x="1371.6" y="417.1" width="7.4" height="7.4"/><rect x="1373" y="417.1" width="7.4" height="7.4"/><rect x="1374" y="417.1" width="7.4" height="7.4"/><rect x="1375.5" y="417.1" width="7.4" height="7.4"/><rect x="1376.1" y="417.1" width="7.4" height="7.4"/><rect x="1377.1" y="417.1" width="7.4" height="7.4"/><rect x="1378.4" y="417.1" width="7.4" height="7.4"/><rect x="1379.1" y="417.1" width="7.4" height="7.4"/><rect x="1380.9" y="417.1" width="7.4" height="7.4"/><rect x="1381.5" y="417.1" width="7.4" height="7.4"/><rect x="1382.6" y="417.1" width="7.4" height="7.4"/><rect x="1384" y="417.1" width="7.4" height="7.4"/><rect x="1384.5" y="417.1" width="7.4" height="7.4"/><rect x="1386.2" y="417.1" width="7.4" height="7.4"/><rect x="1387.5" y="417.1" width="7.4" height="7.4"/><rect x="1388" y="417.1" width="7.4" height="7.4"/><rect x="1389.8" y="417.1" width="7.4" height="7.4"/><rect x="1390.4" y="417.1" width="7.4" height="7.4"/><rect x="1391.8" y="417.1" width="7.4" height="7.4"/><rect x="1392.5" y="417.1" width="7.4" height="7.4"/><rect x="1393.5" y="417.1" width="7.4" height="7.4"/><rect x="1394.5" y="417.1" width="7.4" height="7.4"/><rect x="1395.3" y="417.1" width="7.4" height="7.4"/><rect x="1396.6" y="417.1" width="7.4" height="7.4"/><rect x="1398.6" y="417.1" width="7.4" height="7.4"/><rect x="1399.2" y="417.1" width="7.4" height="7.4"/><rect x="1400.2" y="417.1" width="7.4" height="7.4"/><rect x="1401.8" y="417.1" width="7.4" height="7.4"/><rect x="1402.5" y="417.1" width="7.4" height="7.4"/><rect x="1404" y="417.1" width="7.4" height="7.4"/><rect x="1404.5" y="417.1" width="7.4" height="7.4"/><rect x="1405.4" y="417.1" width="7.4" height="7.4"/><rect x="1407.3" y="417.1" width="7.4" height="7.4"/><rect x="1407.5" y="417.1" width="7.4" height="7.4"/><rect x="1409.3" y="417.1" width="7.4" height="7.4"/><rect x="1410.2" y="417.1" width="7.4" height="7.4"/><rect x="1411.7" y="417.1" width="7.4" height="7.4"/><rect x="1412.8" y="417.1" width="7.4" height="7.4"/><rect x="1413.6" y="417.1" width="7.4" height="7.4"/><rect x="1414" y="417.1" width="7.4" height="7.4"/><rect x="1415.1" y="417.1" width="7.4" height="7.4"/><rect x="1416.6" y="417.1" width="7.4" height="7.4"/><rect x="1418.1" y="417.1" width="7.4" height="7.4"/><rect x="1418.4" y="417.1" width="7.4" height="7.4"/><rect x="1419.9" y="417.1" width="7.4" height="7.4"/><rect x="1420.6" y="417.1" width="7.4" height="7.4"/><rect x="1421.9" y="417.1" width="7.4" height="7.4"/><rect x="1422.7" y="417.1" width="7.4" height="7.4"/><rect x="1424.2" y="417.1" width="7.4" height="7.4"/><rect x="1425.5" y="417.1" width="7.4" height="7.4"/><rect x="1426.2" y="417.1" width="7.4" height="7.4"/><rect x="1427.9" y="417.1" width="7.4" height="7.4"/><rect x="1428.2" y="417.1" width="7.4" height="7.4"/><rect x="1429.5" y="417.1" width="7.4" height="7.4"/><rect x="1430.7" y="417.1" width="7.4" height="7.4"/><rect x="1431.9" y="417.1" width="7.4" height="7.4"/><rect x="1433.4" y="417.1" width="7.4" height="7.4"/><rect x="1434.1" y="417.1" width="7.4" height="7.4"/><rect x="1435.5" y="417.1" width="7.4" height="7.4"/><rect x="1436.9" y="417.1" width="7.4" height="7.4"/><rect x="1437.1" y="417.1" width="7.4" height="7.4"/><rect x="1439" y="417.1" width="7.4" height="7.4"/><rect x="1439.8" y="417.1" width="7.4" height="7.4"/><rect x="1441.1" y="417.1" width="7.4" height="7.4"/><rect x="1442" y="417.1" width="7.4" height="7.4"/><rect x="1442.9" y="417.1" width="7.4" height="7.4"/><rect x="1443.6" y="417.1" width="7.4" height="7.4"/><rect x="1444.8" y="417.1" width="7.4" height="7.4"/><rect x="1445.9" y="417.1" width="7.4" height="7.4"/><rect x="1447" y="417.1" width="7.4" height="7.4"/><rect x="1448.1" y="417.1" width="7.4" height="7.4"/><rect x="1449.2" y="417.1" width="7.4" height="7.4"/><rect x="1450.7" y="417.1" width="7.4" height="7.4"/><rect x="1452" y="417.1" width="7.4" height="7.4"/><rect x="1465.4" y="417.1" width="7.4" height="7.4"/><rect x="1473.6" y="417.1" width="7.4" height="7.4"/><rect x="1485.3" y="417.1" width="7.4" height="7.4"/><rect x="1492.8" y="417.1" width="7.4" height="7.4"/><rect x="1508" y="417.1" width="7.4" height="7.4"/><rect x="1522.1" y="417.1" width="7.4" height="7.4"/><rect x="1533" y="417.1" width="7.4" height="7.4"/><rect x="1562.2" y="417.1" width="7.4" height="7.4"/><rect x="1570.5" y="417.1" width="7.4" height="7.4"/><rect x="1578.7" y="417.1" width="7.4" height="7.4"/><rect x="1637.4" y="417.1" width="7.4" height="7.4"/><rect x="1645" y="417.1" width="7.4" height="7.4"/><rect x="1648.4" y="417.1" width="7.4" height="7.4"/><rect x="1651.2" y="417.1" width="7.4" height="7.4"/><rect x="1666.3" y="417.1" width="7.4" height="7.4"/><rect x="1674.5" y="417.1" width="7.4" height="7.4"/><rect x="1747.3" y="417.1" width="7.4" height="7.4"/><rect x="1770.7" y="417.1" width="7.4" height="7.4"/><rect x="1772.8" y="417.1" width="7.4" height="7.4"/></g>
<g fill="none" stroke="#ff0000" stroke-width="3.0"><circle cx="1370.8" cy="30.4" r="4.65"/><circle cx="1373" cy="30.4" r="4.65"/><circle cx="1375.5" cy="30.4" r="4.65"/><circle cx="1378" cy="30.4" r="4.65"/><circle cx="1380.4" cy="30.4" r="4.65"/><circle cx="1390" cy="30.4" r="4.65"/><circle cx="1416" cy="30.4" r="4.65"/><circle cx="1418.6" cy="30.4" r="4.65"/><circle cx="1428.5" cy="30.4" r="4.65"/><circle cx="1437.5" cy="30.4" r="4.65"/><circle cx="1449.5" cy="30.4" r="4.65"/><circle cx="1461.5" cy="30.4" r="4.65"/><circle cx="1469.3" cy="30.4" r="4.65"/><circle cx="1506.2" cy="30.4" r="4.65"/><circle cx="1524.7" cy="30.4" r="4.65"/><circle cx="1533.6" cy="30.4" r="4.65"/><circle cx="1591.4" cy="30.4" r="4.65"/><circle cx="1633.6" cy="30.4" r="4.65"/><circle cx="1772.3" cy="30.4" r="4.65"/><circle cx="1842.4" cy="30.4" r="4.65"/><circle cx="1865.1" cy="30.4" r="4.65"/></g>
<path d="M1368.3 390.51 L1372.44 389.81 L1376.59 389.1 L1380.73 388.38 L1384.87 387.64 L1389.01 386.88 L1393.16 386.11 L1397.3 385.33 L1401.44 384.52 L1405.58 383.7 L1409.73 382.87 L1413.87 382.02 L1418.01 381.15 L1422.15 380.26 L1426.3 379.35 L1430.44 378.43 L1434.58 377.49 L1438.72 376.53 L1442.87 375.56 L1447.01 374.56 L1451.15 373.55 L1455.3 372.51 L1459.44 371.46 L1463.58 370.38 L1467.72 369.29 L1471.87 368.18 L1476.01 367.05 L1480.15 365.89 L1484.29 364.72 L1488.44 363.52 L1492.58 362.3 L1496.72 361.07 L1500.86 359.81 L1505.01 358.53 L1509.15 357.22 L1513.29 355.9 L1517.43 354.55 L1521.58 353.18 L1525.72 351.79 L1529.86 350.37 L1534.01 348.94 L1538.15 347.48 L1542.29 346 L1546.43 344.49 L1550.58 342.96 L1554.72 341.41 L1558.86 339.84 L1563 338.24 L1567.15 336.62 L1571.29 334.98 L1575.43 333.31 L1579.57 331.62 L1583.72 329.91 L1587.86 328.17 L1592 326.42 L1596.14 324.64 L1600.29 322.83 L1604.43 321.01 L1608.57 319.16 L1612.72 317.29 L1616.86 315.4 L1621 313.48 L1625.14 311.55 L1629.29 309.59 L1633.43 307.61 L1637.57 305.61 L1641.71 303.59 L1645.86 301.55 L1650 299.49 L1654.14 297.41 L1658.28 295.32 L1662.43 293.2 L1666.57 291.06 L1670.71 288.91 L1674.85 286.74 L1679 284.55 L1683.14 282.35 L1687.28 280.13 L1691.43 277.89 L1695.57 275.64 L1699.71 273.38 L1703.85 271.1 L1708 268.8 L1712.14 266.5 L1716.28 264.18 L1720.42 261.85 L1724.57 259.51 L1728.71 257.16 L1732.85 254.8 L1736.99 252.43 L1741.14 250.05 L1745.28 247.67 L1749.42 245.28 L1753.56 242.88 L1757.71 240.47 L1761.85 238.07 L1765.99 235.65 L1770.14 233.24 L1774.28 230.82 L1778.42 228.4 L1782.56 225.98 L1786.71 223.56 L1790.85 221.14 L1794.99 218.72 L1799.13 216.3 L1803.28 213.89 L1807.42 211.48 L1811.56 209.07 L1815.7 206.67 L1819.85 204.27 L1823.99 201.88 L1828.13 199.5 L1832.27 197.12 L1836.42 194.76 L1840.56 192.4 L1844.7 190.05 L1848.85 187.71 L1852.99 185.38 L1857.13 183.07 L1861.27 180.77 L1865.42 178.48" stroke="#000" stroke-width="3.3" fill="none"/><path d="M1368.3 368.46 L1372.44 367.82 L1376.59 367.17 L1380.73 366.5 L1384.87 365.81 L1389.01 365.1 L1393.16 364.36 L1397.3 363.61 L1401.44 362.83 L1405.58 362.03 L1409.73 361.2 L1413.87 360.34 L1418.01 359.45 L1422.15 358.54 L1426.3 357.58 L1430.44 356.6 L1434.58 355.57 L1438.72 354.51 L1442.87 353.41 L1447.01 352.27 L1451.15 351.08 L1455.3 349.85 L1459.44 348.56 L1463.58 347.23 L1467.72 345.85 L1471.87 344.41 L1476.01 342.92 L1480.15 341.37 L1484.29 339.76 L1488.44 338.09 L1492.58 336.36 L1496.72 334.56 L1500.86 332.7 L1505.01 330.78 L1509.15 328.79 L1513.29 326.74 L1517.43 324.62 L1521.58 322.43 L1525.72 320.17 L1529.86 317.85 L1534.01 315.46 L1538.15 313 L1542.29 310.48 L1546.43 307.89 L1550.58 305.24 L1554.72 302.52 L1558.86 299.74 L1563 296.9 L1567.15 293.99 L1571.29 291.03 L1575.43 288.01 L1579.57 284.93 L1583.72 281.8 L1587.86 278.61 L1592 275.38 L1596.14 272.09 L1600.29 268.76 L1604.43 265.39 L1608.57 261.97 L1612.72 258.52 L1616.86 255.03 L1621 251.5 L1625.14 247.94 L1629.29 244.36 L1633.43 240.75 L1637.57 237.12 L1641.71 233.46 L1645.86 229.8 L1650 226.11 L1654.14 222.42 L1658.28 218.72 L1662.43 215.02 L1666.57 211.32 L1670.71 207.61 L1674.85 203.92 L1679 200.23 L1683.14 196.55 L1687.28 192.89 L1691.43 189.25 L1695.57 185.62 L1699.71 182.02 L1703.85 178.44 L1708 174.89 L1712.14 171.38 L1716.28 167.89 L1720.42 164.44 L1724.57 161.03 L1728.71 157.66 L1732.85 154.33 L1736.99 151.05 L1741.14 147.81 L1745.28 144.61 L1749.42 141.47 L1753.56 138.37 L1757.71 135.33 L1761.85 132.34 L1765.99 129.4 L1770.14 126.51 L1774.28 123.68 L1778.42 120.91 L1782.56 118.19 L1786.71 115.53 L1790.85 112.93 L1794.99 110.38 L1799.13 107.89 L1803.28 105.46 L1807.42 103.08 L1811.56 100.77 L1815.7 98.51 L1819.85 96.3 L1823.99 94.15 L1828.13 92.06 L1832.27 90.02 L1836.42 88.04 L1840.56 86.11 L1844.7 84.23 L1848.85 82.41 L1852.99 80.64 L1857.13 78.92 L1861.27 77.25 L1865.42 75.63" stroke="#000" stroke-width="3.0" fill="none" stroke-dasharray="14 12" stroke-dashoffset="-2"/><path d="M1368.3 403.67 L1372.44 403.11 L1376.59 402.53 L1380.73 401.95 L1384.87 401.35 L1389.01 400.73 L1393.16 400.11 L1397.3 399.47 L1401.44 398.82 L1405.58 398.16 L1409.73 397.48 L1413.87 396.8 L1418.01 396.11 L1422.15 395.4 L1426.3 394.69 L1430.44 393.97 L1434.58 393.24 L1438.72 392.5 L1442.87 391.76 L1447.01 391.01 L1451.15 390.25 L1455.3 389.49 L1459.44 388.73 L1463.58 387.96 L1467.72 387.19 L1471.87 386.42 L1476.01 385.65 L1480.15 384.88 L1484.29 384.11 L1488.44 383.34 L1492.58 382.57 L1496.72 381.8 L1500.86 381.03 L1505.01 380.27 L1509.15 379.51 L1513.29 378.75 L1517.43 378 L1521.58 377.25 L1525.72 376.5 L1529.86 375.76 L1534.01 375.02 L1538.15 374.28 L1542.29 373.55 L1546.43 372.82 L1550.58 372.09 L1554.72 371.37 L1558.86 370.65 L1563 369.93 L1567.15 369.22 L1571.29 368.5 L1575.43 367.8 L1579.57 367.09 L1583.72 366.39 L1587.86 365.68 L1592 364.98 L1596.14 364.28 L1600.29 363.59 L1604.43 362.89 L1608.57 362.2 L1612.72 361.5 L1616.86 360.81 L1621 360.12 L1625.14 359.42 L1629.29 358.73 L1633.43 358.04 L1637.57 357.35 L1641.71 356.66 L1645.86 355.96 L1650 355.27 L1654.14 354.58 L1658.28 353.88 L1662.43 353.19 L1666.57 352.49 L1670.71 351.8 L1674.85 351.1 L1679 350.4 L1683.14 349.7 L1687.28 349 L1691.43 348.3 L1695.57 347.59 L1699.71 346.88 L1703.85 346.18 L1708 345.47 L1712.14 344.75 L1716.28 344.04 L1720.42 343.32 L1724.57 342.6 L1728.71 341.88 L1732.85 341.16 L1736.99 340.44 L1741.14 339.71 L1745.28 338.98 L1749.42 338.25 L1753.56 337.51 L1757.71 336.78 L1761.85 336.04 L1765.99 335.29 L1770.14 334.55 L1774.28 333.8 L1778.42 333.05 L1782.56 332.3 L1786.71 331.54 L1790.85 330.78 L1794.99 330.02 L1799.13 329.26 L1803.28 328.49 L1807.42 327.72 L1811.56 326.95 L1815.7 326.18 L1819.85 325.4 L1823.99 324.62 L1828.13 323.83 L1832.27 323.04 L1836.42 322.25 L1840.56 321.46 L1844.7 320.66 L1848.85 319.87 L1852.99 319.06 L1857.13 318.26 L1861.27 317.45 L1865.42 316.64" stroke="#000" stroke-width="3.0" fill="none" stroke-dasharray="14 12" stroke-dashoffset="-2"/>
<g font-size="27.2" fill="#222222"><text x="1368.3" y="454.3" text-anchor="middle">0</text><text x="1521.4" y="454.3" text-anchor="middle">1000</text><text x="1674.5" y="454.3" text-anchor="middle">2000</text><text x="1827.6" y="454.3" text-anchor="middle">3000</text><text x="1358.8" y="430" text-anchor="end">0</text><text x="1358.8" y="351.92" text-anchor="end">0.2</text><text x="1358.8" y="273.84" text-anchor="end">0.4</text><text x="1358.8" y="195.76" text-anchor="end">0.6</text><text x="1358.8" y="117.68" text-anchor="end">0.8</text><text x="1358.8" y="39.6" text-anchor="end">1</text></g>
<text x="1616.85" y="492" font-size="30.5" fill="#222222" text-anchor="middle" word-spacing="7.2">Max Momentum Flux (kg/s<tspan dy="-10.9" font-size="19.5">2</tspan><tspan dy="10.9">)</tspan></text>
<text transform="translate(1309.3 224.9) rotate(-90)" font-size="30" fill="#222222" text-anchor="middle">Uninhabitable Probability</text>
<text x="1399" y="83.7" font-size="40.8" fill="#000">(c)</text>
</g>
<g id="panel-d">
<line x1="101.2" y1="918.73" x2="597.5" y2="918.73" stroke="#222222" stroke-opacity=".15" stroke-width="3.1" stroke-dasharray="3.1 3.54"/><line x1="101" y1="879.71" x2="597.5" y2="879.71" stroke="#222222" stroke-opacity=".15" stroke-width="3.1"/><line x1="101.2" y1="840.69" x2="597.5" y2="840.69" stroke="#222222" stroke-opacity=".15" stroke-width="3.1" stroke-dasharray="3.1 3.54"/><line x1="101" y1="801.67" x2="597.5" y2="801.67" stroke="#222222" stroke-opacity=".15" stroke-width="3.1"/><line x1="101.2" y1="762.65" x2="597.5" y2="762.65" stroke="#222222" stroke-opacity=".15" stroke-width="3.1" stroke-dasharray="3.1 3.54"/><line x1="101" y1="723.63" x2="597.5" y2="723.63" stroke="#222222" stroke-opacity=".15" stroke-width="3.1"/><line x1="101.2" y1="684.61" x2="597.5" y2="684.61" stroke="#222222" stroke-opacity=".15" stroke-width="3.1" stroke-dasharray="3.1 3.54"/><line x1="101" y1="645.59" x2="597.5" y2="645.59" stroke="#222222" stroke-opacity=".15" stroke-width="3.1"/><line x1="101.2" y1="606.57" x2="597.5" y2="606.57" stroke="#222222" stroke-opacity=".15" stroke-width="3.1" stroke-dasharray="3.1 3.54"/><line x1="265.5" y1="567.55" x2="265.5" y2="957.75" stroke="#222222" stroke-opacity=".15" stroke-width="3.1"/><line x1="430" y1="567.55" x2="430" y2="957.75" stroke="#222222" stroke-opacity=".15" stroke-width="3.1"/><line x1="594.5" y1="567.55" x2="594.5" y2="957.75" stroke="#222222" stroke-opacity=".15" stroke-width="3.1"/>
<path d="M101 957.75h6.6 M597.5 957.75h-6.6 M101 918.73h4 M597.5 918.73h-4 M101 879.71h6.6 M597.5 879.71h-6.6 M101 840.69h4 M597.5 840.69h-4 M101 801.67h6.6 M597.5 801.67h-6.6 M101 762.65h4 M597.5 762.65h-4 M101 723.63h6.6 M597.5 723.63h-6.6 M101 684.61h4 M597.5 684.61h-4 M101 645.59h6.6 M597.5 645.59h-6.6 M101 606.57h4 M597.5 606.57h-4 M101 567.55h6.6 M597.5 567.55h-6.6 M101 957.75v-6.5 M101 567.55v6.5 M265.5 957.75v-6.5 M265.5 567.55v6.5 M430 957.75v-6.5 M430 567.55v6.5 M594.5 957.75v-6.5 M594.5 567.55v6.5" stroke="#222222" stroke-width="3" fill="none"/>
<rect x="101" y="567.55" width="496.5" height="390.2" fill="none" stroke="#222222" stroke-width="3.2"/>
<g fill="none" stroke="#0000ff" stroke-width="2.4"><rect x="97.3" y="954.05" width="7.4" height="7.4"/><rect x="166.3" y="954.05" width="7.4" height="7.4"/><rect x="97.4" y="954.05" width="7.4" height="7.4"/><rect x="98.8" y="954.05" width="7.4" height="7.4"/><rect x="100.1" y="954.05" width="7.4" height="7.4"/><rect x="101" y="954.05" width="7.4" height="7.4"/><rect x="102" y="954.05" width="7.4" height="7.4"/><rect x="102.7" y="954.05" width="7.4" height="7.4"/><rect x="104.1" y="954.05" width="7.4" height="7.4"/><rect x="104.8" y="954.05" width="7.4" height="7.4"/><rect x="105.4" y="954.05" width="7.4" height="7.4"/><rect x="106.8" y="954.05" width="7.4" height="7.4"/><rect x="107.3" y="954.05" width="7.4" height="7.4"/><rect x="109.2" y="954.05" width="7.4" height="7.4"/><rect x="110.2" y="954.05" width="7.4" height="7.4"/><rect x="110.6" y="954.05" width="7.4" height="7.4"/><rect x="111.6" y="954.05" width="7.4" height="7.4"/><rect x="113.1" y="954.05" width="7.4" height="7.4"/><rect x="113.5" y="954.05" width="7.4" height="7.4"/><rect x="114.5" y="954.05" width="7.4" height="7.4"/><rect x="115.5" y="954.05" width="7.4" height="7.4"/><rect x="116.6" y="954.05" width="7.4" height="7.4"/><rect x="117.9" y="954.05" width="7.4" height="7.4"/><rect x="119.3" y="954.05" width="7.4" height="7.4"/><rect x="119.5" y="954.05" width="7.4" height="7.4"/><rect x="121.3" y="954.05" width="7.4" height="7.4"/><rect x="121.9" y="954.05" width="7.4" height="7.4"/><rect x="123.2" y="954.05" width="7.4" height="7.4"/><rect x="124.1" y="954.05" width="7.4" height="7.4"/><rect x="124.5" y="954.05" width="7.4" height="7.4"/><rect x="125.9" y="954.05" width="7.4" height="7.4"/><rect x="126.4" y="954.05" width="7.4" height="7.4"/><rect x="127.3" y="954.05" width="7.4" height="7.4"/><rect x="128.7" y="954.05" width="7.4" height="7.4"/><rect x="130.1" y="954.05" width="7.4" height="7.4"/><rect x="130.9" y="954.05" width="7.4" height="7.4"/><rect x="131.5" y="954.05" width="7.4" height="7.4"/><rect x="133.1" y="954.05" width="7.4" height="7.4"/><rect x="134.2" y="954.05" width="7.4" height="7.4"/><rect x="134.5" y="954.05" width="7.4" height="7.4"/><rect x="135.7" y="954.05" width="7.4" height="7.4"/><rect x="136.9" y="954.05" width="7.4" height="7.4"/><rect x="138.2" y="954.05" width="7.4" height="7.4"/><rect x="138.4" y="954.05" width="7.4" height="7.4"/><rect x="139.9" y="954.05" width="7.4" height="7.4"/><rect x="141.3" y="954.05" width="7.4" height="7.4"/><rect x="141.9" y="954.05" width="7.4" height="7.4"/><rect x="143" y="954.05" width="7.4" height="7.4"/><rect x="144.1" y="954.05" width="7.4" height="7.4"/><rect x="144.8" y="954.05" width="7.4" height="7.4"/><rect x="145.6" y="954.05" width="7.4" height="7.4"/><rect x="146.9" y="954.05" width="7.4" height="7.4"/><rect x="147.8" y="954.05" width="7.4" height="7.4"/><rect x="148.6" y="954.05" width="7.4" height="7.4"/><rect x="150.2" y="954.05" width="7.4" height="7.4"/><rect x="150.7" y="954.05" width="7.4" height="7.4"/><rect x="151.8" y="954.05" width="7.4" height="7.4"/><rect x="153.1" y="954.05" width="7.4" height="7.4"/><rect x="154.1" y="954.05" width="7.4" height="7.4"/><rect x="155.2" y="954.05" width="7.4" height="7.4"/><rect x="156" y="954.05" width="7.4" height="7.4"/><rect x="156.6" y="954.05" width="7.4" height="7.4"/><rect x="158.1" y="954.05" width="7.4" height="7.4"/><rect x="159.2" y="954.05" width="7.4" height="7.4"/><rect x="160" y="954.05" width="7.4" height="7.4"/><rect x="161.1" y="954.05" width="7.4" height="7.4"/><rect x="161.8" y="954.05" width="7.4" height="7.4"/><rect x="162.8" y="954.05" width="7.4" height="7.4"/><rect x="163.9" y="954.05" width="7.4" height="7.4"/><rect x="164.4" y="954.05" width="7.4" height="7.4"/><rect x="166" y="954.05" width="7.4" height="7.4"/><rect x="166.3" y="954.05" width="7.4" height="7.4"/><rect x="211.3" y="954.05" width="7.4" height="7.4"/><rect x="167.9" y="954.05" width="7.4" height="7.4"/><rect x="168.5" y="954.05" width="7.4" height="7.4"/><rect x="171.5" y="954.05" width="7.4" height="7.4"/><rect x="173.2" y="954.05" width="7.4" height="7.4"/><rect x="174" y="954.05" width="7.4" height="7.4"/><rect x="175.8" y="954.05" width="7.4" height="7.4"/><rect x="178.7" y="954.05" width="7.4" height="7.4"/><rect x="179.8" y="954.05" width="7.4" height="7.4"/><rect x="181.9" y="954.05" width="7.4" height="7.4"/><rect x="184.3" y="954.05" width="7.4" height="7.4"/><rect x="186.3" y="954.05" width="7.4" height="7.4"/><rect x="188.3" y="954.05" width="7.4" height="7.4"/><rect x="189.9" y="954.05" width="7.4" height="7.4"/><rect x="191.3" y="954.05" width="7.4" height="7.4"/><rect x="192.6" y="954.05" width="7.4" height="7.4"/><rect x="194.6" y="954.05" width="7.4" height="7.4"/><rect x="196.7" y="954.05" width="7.4" height="7.4"/><rect x="199.2" y="954.05" width="7.4" height="7.4"/><rect x="201.4" y="954.05" width="7.4" height="7.4"/><rect x="202.3" y="954.05" width="7.4" height="7.4"/><rect x="204.5" y="954.05" width="7.4" height="7.4"/><rect x="207.4" y="954.05" width="7.4" height="7.4"/><rect x="208.3" y="954.05" width="7.4" height="7.4"/><rect x="210.8" y="954.05" width="7.4" height="7.4"/><rect x="211.3" y="954.05" width="7.4" height="7.4"/><rect x="318.5" y="954.05" width="7.4" height="7.4"/><rect x="213" y="954.05" width="7.4" height="7.4"/><rect x="215.7" y="954.05" width="7.4" height="7.4"/><rect x="217.9" y="954.05" width="7.4" height="7.4"/><rect x="220.8" y="954.05" width="7.4" height="7.4"/><rect x="223.9" y="954.05" width="7.4" height="7.4"/><rect x="225.1" y="954.05" width="7.4" height="7.4"/><rect x="229.5" y="954.05" width="7.4" height="7.4"/><rect x="232.4" y="954.05" width="7.4" height="7.4"/><rect x="232.9" y="954.05" width="7.4" height="7.4"/><rect x="236" y="954.05" width="7.4" height="7.4"/><rect x="238.8" y="954.05" width="7.4" height="7.4"/><rect x="241" y="954.05" width="7.4" height="7.4"/><rect x="243.8" y="954.05" width="7.4" height="7.4"/><rect x="247.9" y="954.05" width="7.4" height="7.4"/><rect x="249.1" y="954.05" width="7.4" height="7.4"/><rect x="251.7" y="954.05" width="7.4" height="7.4"/><rect x="256.7" y="954.05" width="7.4" height="7.4"/><rect x="257.9" y="954.05" width="7.4" height="7.4"/><rect x="261" y="954.05" width="7.4" height="7.4"/><rect x="263.5" y="954.05" width="7.4" height="7.4"/><rect x="265.8" y="954.05" width="7.4" height="7.4"/><rect x="268.8" y="954.05" width="7.4" height="7.4"/><rect x="270.8" y="954.05" width="7.4" height="7.4"/><rect x="274.5" y="954.05" width="7.4" height="7.4"/><rect x="276.3" y="954.05" width="7.4" height="7.4"/><rect x="278.7" y="954.05" width="7.4" height="7.4"/><rect x="281.5" y="954.05" width="7.4" height="7.4"/><rect x="284.8" y="954.05" width="7.4" height="7.4"/><rect x="288.8" y="954.05" width="7.4" height="7.4"/><rect x="290.6" y="954.05" width="7.4" height="7.4"/><rect x="294.3" y="954.05" width="7.4" height="7.4"/><rect x="295.5" y="954.05" width="7.4" height="7.4"/><rect x="297.8" y="954.05" width="7.4" height="7.4"/><rect x="301.6" y="954.05" width="7.4" height="7.4"/><rect x="302.9" y="954.05" width="7.4" height="7.4"/><rect x="307.8" y="954.05" width="7.4" height="7.4"/><rect x="308.8" y="954.05" width="7.4" height="7.4"/><rect x="311.2" y="954.05" width="7.4" height="7.4"/><rect x="313.9" y="954.05" width="7.4" height="7.4"/><rect x="316.6" y="954.05" width="7.4" height="7.4"/><rect x="332.3" y="954.05" width="7.4" height="7.4"/><rect x="339.3" y="954.05" width="7.4" height="7.4"/><rect x="348.6" y="954.05" width="7.4" height="7.4"/><rect x="358.6" y="954.05" width="7.4" height="7.4"/><rect x="367.8" y="954.05" width="7.4" height="7.4"/><rect x="373.1" y="954.05" width="7.4" height="7.4"/><rect x="377.7" y="954.05" width="7.4" height="7.4"/><rect x="382.3" y="954.05" width="7.4" height="7.4"/><rect x="385.4" y="954.05" width="7.4" height="7.4"/><rect x="401.5" y="954.05" width="7.4" height="7.4"/><rect x="411.4" y="954.05" width="7.4" height="7.4"/><rect x="424.5" y="954.05" width="7.4" height="7.4"/><rect x="500.8" y="954.05" width="7.4" height="7.4"/><rect x="593.4" y="954.05" width="7.4" height="7.4"/></g>
<g fill="none" stroke="#ff0000" stroke-width="3.0"><circle cx="113.4" cy="567.55" r="4.7"/><circle cx="140.6" cy="567.55" r="4.7"/><circle cx="149.4" cy="567.55" r="4.7"/><circle cx="153.2" cy="567.55" r="4.7"/><circle cx="157.3" cy="567.55" r="4.7"/><circle cx="161.5" cy="567.55" r="4.7"/><circle cx="172.2" cy="567.55" r="4.7"/><circle cx="227.1" cy="567.55" r="4.7"/><circle cx="236.4" cy="567.55" r="4.7"/><circle cx="246.7" cy="567.55" r="4.7"/><circle cx="250.1" cy="567.55" r="4.7"/><circle cx="252.8" cy="567.55" r="4.7"/><circle cx="256.3" cy="567.55" r="4.7"/><circle cx="280.7" cy="567.55" r="4.7"/><circle cx="297.5" cy="567.55" r="4.7"/><circle cx="305.7" cy="567.55" r="4.7"/><circle cx="330.8" cy="567.55" r="4.7"/><circle cx="341.2" cy="567.55" r="4.7"/><circle cx="366.5" cy="567.55" r="4.7"/><circle cx="386" cy="567.55" r="4.7"/><circle cx="389.6" cy="567.55" r="4.7"/><circle cx="392.6" cy="567.55" r="4.7"/><circle cx="413.2" cy="567.55" r="4.7"/></g>
<path d="M101 933.46 L105.14 932.85 L109.27 932.22 L113.41 931.58 L117.55 930.92 L121.69 930.25 L125.82 929.56 L129.96 928.86 L134.1 928.14 L138.23 927.4 L142.37 926.65 L146.51 925.88 L150.65 925.09 L154.78 924.28 L158.92 923.46 L163.06 922.62 L167.19 921.76 L171.33 920.88 L175.47 919.98 L179.61 919.06 L183.74 918.12 L187.88 917.17 L192.02 916.19 L196.16 915.19 L200.29 914.17 L204.43 913.13 L208.57 912.06 L212.7 910.98 L216.84 909.87 L220.98 908.74 L225.12 907.59 L229.25 906.41 L233.39 905.21 L237.53 903.99 L241.66 902.74 L245.8 901.47 L249.94 900.17 L254.08 898.86 L258.21 897.51 L262.35 896.14 L266.49 894.75 L270.62 893.33 L274.76 891.88 L278.9 890.41 L283.04 888.91 L287.17 887.39 L291.31 885.84 L295.45 884.26 L299.58 882.66 L303.72 881.03 L307.86 879.37 L312 877.69 L316.13 875.98 L320.27 874.25 L324.41 872.48 L328.54 870.7 L332.68 868.88 L336.82 867.04 L340.96 865.17 L345.09 863.27 L349.23 861.35 L353.37 859.4 L357.5 857.43 L361.64 855.43 L365.78 853.41 L369.92 851.36 L374.05 849.28 L378.19 847.18 L382.33 845.06 L386.47 842.91 L390.6 840.73 L394.74 838.54 L398.88 836.32 L403.01 834.08 L407.15 831.82 L411.29 829.53 L415.43 827.23 L419.56 824.9 L423.7 822.55 L427.84 820.19 L431.97 817.8 L436.11 815.4 L440.25 812.98 L444.39 810.54 L448.52 808.09 L452.66 805.62 L456.8 803.14 L460.93 800.65 L465.07 798.14 L469.21 795.61 L473.35 793.08 L477.48 790.54 L481.62 787.98 L485.76 785.42 L489.89 782.85 L494.03 780.27 L498.17 777.69 L502.31 775.1 L506.44 772.51 L510.58 769.91 L514.72 767.31 L518.85 764.71 L522.99 762.1 L527.13 759.5 L531.27 756.9 L535.4 754.3 L539.54 751.71 L543.68 749.11 L547.81 746.52 L551.95 743.94 L556.09 741.37 L560.23 738.8 L564.36 736.24 L568.5 733.69 L572.64 731.15 L576.78 728.62 L580.91 726.1 L585.05 723.59 L589.19 721.1 L593.32 718.62 L597.46 716.16" stroke="#000" stroke-width="3.3" fill="none"/><path d="M101 910.65 L105.14 910.1 L109.27 909.54 L113.41 908.96 L117.55 908.37 L121.69 907.77 L125.82 907.15 L129.96 906.51 L134.1 905.86 L138.23 905.18 L142.37 904.49 L146.51 903.78 L150.65 903.04 L154.78 902.28 L158.92 901.49 L163.06 900.68 L167.19 899.84 L171.33 898.97 L175.47 898.07 L179.61 897.13 L183.74 896.16 L187.88 895.15 L192.02 894.1 L196.16 893.01 L200.29 891.87 L204.43 890.69 L208.57 889.46 L212.7 888.17 L216.84 886.83 L220.98 885.43 L225.12 883.97 L229.25 882.45 L233.39 880.87 L237.53 879.22 L241.66 877.5 L245.8 875.71 L249.94 873.85 L254.08 871.92 L258.21 869.91 L262.35 867.83 L266.49 865.66 L270.62 863.42 L274.76 861.1 L278.9 858.71 L283.04 856.23 L287.17 853.68 L291.31 851.04 L295.45 848.33 L299.58 845.54 L303.72 842.68 L307.86 839.74 L312 836.72 L316.13 833.63 L320.27 830.47 L324.41 827.24 L328.54 823.95 L332.68 820.59 L336.82 817.16 L340.96 813.68 L345.09 810.13 L349.23 806.54 L353.37 802.88 L357.5 799.18 L361.64 795.44 L365.78 791.65 L369.92 787.82 L374.05 783.96 L378.19 780.06 L382.33 776.14 L386.47 772.19 L390.6 768.22 L394.74 764.23 L398.88 760.23 L403.01 756.22 L407.15 752.21 L411.29 748.19 L415.43 744.18 L419.56 740.17 L423.7 736.18 L427.84 732.2 L431.97 728.23 L436.11 724.29 L440.25 720.38 L444.39 716.49 L448.52 712.64 L452.66 708.82 L456.8 705.04 L460.93 701.3 L465.07 697.61 L469.21 693.97 L473.35 690.37 L477.48 686.83 L481.62 683.34 L485.76 679.9 L489.89 676.53 L494.03 673.21 L498.17 669.96 L502.31 666.76 L506.44 663.64 L510.58 660.57 L514.72 657.57 L518.85 654.64 L522.99 651.78 L527.13 648.98 L531.27 646.25 L535.4 643.58 L539.54 640.98 L543.68 638.46 L547.81 635.99 L551.95 633.6 L556.09 631.27 L560.23 629 L564.36 626.8 L568.5 624.67 L572.64 622.59 L576.78 620.58 L580.91 618.63 L585.05 616.75 L589.19 614.92 L593.32 613.15 L597.46 611.43" stroke="#000" stroke-width="3.0" fill="none" stroke-dasharray="14 12" stroke-dashoffset="-2"/><path d="M101 946.15 L105.14 945.69 L109.27 945.21 L113.41 944.72 L117.55 944.21 L121.69 943.68 L125.82 943.14 L129.96 942.58 L134.1 942.01 L138.23 941.41 L142.37 940.8 L146.51 940.18 L150.65 939.53 L154.78 938.87 L158.92 938.19 L163.06 937.5 L167.19 936.79 L171.33 936.06 L175.47 935.32 L179.61 934.56 L183.74 933.79 L187.88 933.01 L192.02 932.21 L196.16 931.41 L200.29 930.59 L204.43 929.76 L208.57 928.92 L212.7 928.08 L216.84 927.23 L220.98 926.37 L225.12 925.51 L229.25 924.65 L233.39 923.78 L237.53 922.92 L241.66 922.06 L245.8 921.19 L249.94 920.34 L254.08 919.48 L258.21 918.63 L262.35 917.79 L266.49 916.95 L270.62 916.12 L274.76 915.29 L278.9 914.47 L283.04 913.66 L287.17 912.86 L291.31 912.06 L295.45 911.28 L299.58 910.5 L303.72 909.73 L307.86 908.96 L312 908.21 L316.13 907.46 L320.27 906.72 L324.41 905.98 L328.54 905.25 L332.68 904.53 L336.82 903.81 L340.96 903.1 L345.09 902.4 L349.23 901.7 L353.37 901 L357.5 900.31 L361.64 899.62 L365.78 898.93 L369.92 898.25 L374.05 897.57 L378.19 896.9 L382.33 896.22 L386.47 895.55 L390.6 894.88 L394.74 894.22 L398.88 893.55 L403.01 892.89 L407.15 892.23 L411.29 891.56 L415.43 890.9 L419.56 890.24 L423.7 889.58 L427.84 888.92 L431.97 888.26 L436.11 887.6 L440.25 886.94 L444.39 886.29 L448.52 885.63 L452.66 884.97 L456.8 884.3 L460.93 883.64 L465.07 882.98 L469.21 882.32 L473.35 881.65 L477.48 880.99 L481.62 880.32 L485.76 879.65 L489.89 878.98 L494.03 878.31 L498.17 877.64 L502.31 876.97 L506.44 876.29 L510.58 875.62 L514.72 874.94 L518.85 874.26 L522.99 873.58 L527.13 872.9 L531.27 872.21 L535.4 871.52 L539.54 870.84 L543.68 870.15 L547.81 869.45 L551.95 868.76 L556.09 868.06 L560.23 867.36 L564.36 866.66 L568.5 865.96 L572.64 865.25 L576.78 864.54 L580.91 863.83 L585.05 863.12 L589.19 862.41 L593.32 861.69 L597.46 860.97" stroke="#000" stroke-width="3.0" fill="none" stroke-dasharray="14 12" stroke-dashoffset="-2"/>
<g font-size="27.2" fill="#222222"><text x="101" y="991.25" text-anchor="middle">0</text><text x="265.5" y="991.25" text-anchor="middle">1000</text><text x="430" y="991.25" text-anchor="middle">2000</text><text x="594.5" y="991.25" text-anchor="middle">3000</text><text x="91.5" y="966.95" text-anchor="end">0</text><text x="91.5" y="888.91" text-anchor="end">0.2</text><text x="91.5" y="810.87" text-anchor="end">0.4</text><text x="91.5" y="732.83" text-anchor="end">0.6</text><text x="91.5" y="654.79" text-anchor="end">0.8</text><text x="91.5" y="576.75" text-anchor="end">1</text></g>
<text x="349.25" y="1025.6" font-size="30.5" fill="#222222" text-anchor="middle">Max Wave Energy Flux (kW/m)</text>
<text transform="translate(41 763.25) rotate(-90)" font-size="30" fill="#222222" text-anchor="middle">Uninhabitable Probability</text>
<text x="129.5" y="618" font-size="40.8" fill="#000">(d)</text>
</g>
<g id="panel-e">
<line x1="734.9" y1="918.73" x2="1231.7" y2="918.73" stroke="#222222" stroke-opacity=".15" stroke-width="3.1" stroke-dasharray="3.1 3.54"/><line x1="734.7" y1="879.71" x2="1231.7" y2="879.71" stroke="#222222" stroke-opacity=".15" stroke-width="3.1"/><line x1="734.9" y1="840.69" x2="1231.7" y2="840.69" stroke="#222222" stroke-opacity=".15" stroke-width="3.1" stroke-dasharray="3.1 3.54"/><line x1="734.7" y1="801.67" x2="1231.7" y2="801.67" stroke="#222222" stroke-opacity=".15" stroke-width="3.1"/><line x1="734.9" y1="762.65" x2="1231.7" y2="762.65" stroke="#222222" stroke-opacity=".15" stroke-width="3.1" stroke-dasharray="3.1 3.54"/><line x1="734.7" y1="723.63" x2="1231.7" y2="723.63" stroke="#222222" stroke-opacity=".15" stroke-width="3.1"/><line x1="734.9" y1="684.61" x2="1231.7" y2="684.61" stroke="#222222" stroke-opacity=".15" stroke-width="3.1" stroke-dasharray="3.1 3.54"/><line x1="734.7" y1="645.59" x2="1231.7" y2="645.59" stroke="#222222" stroke-opacity=".15" stroke-width="3.1"/><line x1="734.9" y1="606.57" x2="1231.7" y2="606.57" stroke="#222222" stroke-opacity=".15" stroke-width="3.1" stroke-dasharray="3.1 3.54"/><line x1="880" y1="567.55" x2="880" y2="957.75" stroke="#222222" stroke-opacity=".15" stroke-width="3.1"/><line x1="1025.3" y1="567.55" x2="1025.3" y2="957.75" stroke="#222222" stroke-opacity=".15" stroke-width="3.1"/><line x1="1170.6" y1="567.55" x2="1170.6" y2="957.75" stroke="#222222" stroke-opacity=".15" stroke-width="3.1"/>
<path d="M734.7 957.75h6.6 M1231.7 957.75h-6.6 M734.7 918.73h4 M1231.7 918.73h-4 M734.7 879.71h6.6 M1231.7 879.71h-6.6 M734.7 840.69h4 M1231.7 840.69h-4 M734.7 801.67h6.6 M1231.7 801.67h-6.6 M734.7 762.65h4 M1231.7 762.65h-4 M734.7 723.63h6.6 M1231.7 723.63h-6.6 M734.7 684.61h4 M1231.7 684.61h-4 M734.7 645.59h6.6 M1231.7 645.59h-6.6 M734.7 606.57h4 M1231.7 606.57h-4 M734.7 567.55h6.6 M1231.7 567.55h-6.6 M734.7 957.75v-6.5 M734.7 567.55v6.5 M880 957.75v-6.5 M880 567.55v6.5 M1025.3 957.75v-6.5 M1025.3 567.55v6.5 M1170.6 957.75v-6.5 M1170.6 567.55v6.5" stroke="#222222" stroke-width="3" fill="none"/>
<rect x="734.7" y="567.55" width="497" height="390.2" fill="none" stroke="#222222" stroke-width="3.2"/>
<g fill="none" stroke="#0000ff" stroke-width="2.4"><rect x="731" y="954.05" width="7.4" height="7.4"/><rect x="846.9" y="954.05" width="7.4" height="7.4"/><rect x="731.8" y="954.05" width="7.4" height="7.4"/><rect x="732.6" y="954.05" width="7.4" height="7.4"/><rect x="734.9" y="954.05" width="7.4" height="7.4"/><rect x="736.1" y="954.05" width="7.4" height="7.4"/><rect x="736.8" y="954.05" width="7.4" height="7.4"/><rect x="738.4" y="954.05" width="7.4" height="7.4"/><rect x="739.1" y="954.05" width="7.4" height="7.4"/><rect x="740.4" y="954.05" width="7.4" height="7.4"/><rect x="741.8" y="954.05" width="7.4" height="7.4"/><rect x="743.6" y="954.05" width="7.4" height="7.4"/><rect x="744.3" y="954.05" width="7.4" height="7.4"/><rect x="746.6" y="954.05" width="7.4" height="7.4"/><rect x="746.7" y="954.05" width="7.4" height="7.4"/><rect x="748.2" y="954.05" width="7.4" height="7.4"/><rect x="749.3" y="954.05" width="7.4" height="7.4"/><rect x="751.5" y="954.05" width="7.4" height="7.4"/><rect x="752.3" y="954.05" width="7.4" height="7.4"/><rect x="753.8" y="954.05" width="7.4" height="7.4"/><rect x="754.9" y="954.05" width="7.4" height="7.4"/><rect x="756.6" y="954.05" width="7.4" height="7.4"/><rect x="757.6" y="954.05" width="7.4" height="7.4"/><rect x="758.6" y="954.05" width="7.4" height="7.4"/><rect x="760.2" y="954.05" width="7.4" height="7.4"/><rect x="761.3" y="954.05" width="7.4" height="7.4"/><rect x="762.4" y="954.05" width="7.4" height="7.4"/><rect x="764.6" y="954.05" width="7.4" height="7.4"/><rect x="765.7" y="954.05" width="7.4" height="7.4"/><rect x="767" y="954.05" width="7.4" height="7.4"/><rect x="768.6" y="954.05" width="7.4" height="7.4"/><rect x="769.3" y="954.05" width="7.4" height="7.4"/><rect x="770.6" y="954.05" width="7.4" height="7.4"/><rect x="771.9" y="954.05" width="7.4" height="7.4"/><rect x="773.2" y="954.05" width="7.4" height="7.4"/><rect x="774.8" y="954.05" width="7.4" height="7.4"/><rect x="775.3" y="954.05" width="7.4" height="7.4"/><rect x="777.2" y="954.05" width="7.4" height="7.4"/><rect x="778.6" y="954.05" width="7.4" height="7.4"/><rect x="779.6" y="954.05" width="7.4" height="7.4"/><rect x="780.5" y="954.05" width="7.4" height="7.4"/><rect x="782.7" y="954.05" width="7.4" height="7.4"/><rect x="783.1" y="954.05" width="7.4" height="7.4"/><rect x="785.1" y="954.05" width="7.4" height="7.4"/><rect x="785.9" y="954.05" width="7.4" height="7.4"/><rect x="787" y="954.05" width="7.4" height="7.4"/><rect x="788.5" y="954.05" width="7.4" height="7.4"/><rect x="789.7" y="954.05" width="7.4" height="7.4"/><rect x="791.1" y="954.05" width="7.4" height="7.4"/><rect x="793.1" y="954.05" width="7.4" height="7.4"/><rect x="794.5" y="954.05" width="7.4" height="7.4"/><rect x="795.3" y="954.05" width="7.4" height="7.4"/><rect x="797" y="954.05" width="7.4" height="7.4"/><rect x="798" y="954.05" width="7.4" height="7.4"/><rect x="799.4" y="954.05" width="7.4" height="7.4"/><rect x="801.2" y="954.05" width="7.4" height="7.4"/><rect x="801.7" y="954.05" width="7.4" height="7.4"/><rect x="803.8" y="954.05" width="7.4" height="7.4"/><rect x="804.8" y="954.05" width="7.4" height="7.4"/><rect x="806.1" y="954.05" width="7.4" height="7.4"/><rect x="806.5" y="954.05" width="7.4" height="7.4"/><rect x="807.9" y="954.05" width="7.4" height="7.4"/><rect x="809.2" y="954.05" width="7.4" height="7.4"/><rect x="810.9" y="954.05" width="7.4" height="7.4"/><rect x="813" y="954.05" width="7.4" height="7.4"/><rect x="814.2" y="954.05" width="7.4" height="7.4"/><rect x="815.4" y="954.05" width="7.4" height="7.4"/><rect x="815.8" y="954.05" width="7.4" height="7.4"/><rect x="817.9" y="954.05" width="7.4" height="7.4"/><rect x="819.3" y="954.05" width="7.4" height="7.4"/><rect x="820.6" y="954.05" width="7.4" height="7.4"/><rect x="821.9" y="954.05" width="7.4" height="7.4"/><rect x="822.3" y="954.05" width="7.4" height="7.4"/><rect x="823.7" y="954.05" width="7.4" height="7.4"/><rect x="825.8" y="954.05" width="7.4" height="7.4"/><rect x="827" y="954.05" width="7.4" height="7.4"/><rect x="828.5" y="954.05" width="7.4" height="7.4"/><rect x="829.2" y="954.05" width="7.4" height="7.4"/><rect x="831.1" y="954.05" width="7.4" height="7.4"/><rect x="831.5" y="954.05" width="7.4" height="7.4"/><rect x="833.8" y="954.05" width="7.4" height="7.4"/><rect x="835" y="954.05" width="7.4" height="7.4"/><rect x="835.6" y="954.05" width="7.4" height="7.4"/><rect x="836.6" y="954.05" width="7.4" height="7.4"/><rect x="838.5" y="954.05" width="7.4" height="7.4"/><rect x="840" y="954.05" width="7.4" height="7.4"/><rect x="840.8" y="954.05" width="7.4" height="7.4"/><rect x="841.8" y="954.05" width="7.4" height="7.4"/><rect x="843.4" y="954.05" width="7.4" height="7.4"/><rect x="845.4" y="954.05" width="7.4" height="7.4"/><rect x="845.7" y="954.05" width="7.4" height="7.4"/><rect x="868.6" y="954.05" width="7.4" height="7.4"/><rect x="875.7" y="954.05" width="7.4" height="7.4"/><rect x="881.9" y="954.05" width="7.4" height="7.4"/><rect x="888.8" y="954.05" width="7.4" height="7.4"/><rect x="901.8" y="954.05" width="7.4" height="7.4"/><rect x="916.3" y="954.05" width="7.4" height="7.4"/><rect x="934.8" y="954.05" width="7.4" height="7.4"/><rect x="960.9" y="954.05" width="7.4" height="7.4"/><rect x="967.8" y="954.05" width="7.4" height="7.4"/><rect x="973.3" y="954.05" width="7.4" height="7.4"/><rect x="975.6" y="954.05" width="7.4" height="7.4"/><rect x="988" y="954.05" width="7.4" height="7.4"/><rect x="1020.3" y="954.05" width="7.4" height="7.4"/><rect x="1023" y="954.05" width="7.4" height="7.4"/><rect x="1026.5" y="954.05" width="7.4" height="7.4"/><rect x="1035.4" y="954.05" width="7.4" height="7.4"/><rect x="1043.6" y="954.05" width="7.4" height="7.4"/><rect x="1052.6" y="954.05" width="7.4" height="7.4"/><rect x="1119.9" y="954.05" width="7.4" height="7.4"/><rect x="1147.4" y="954.05" width="7.4" height="7.4"/><rect x="1158.4" y="954.05" width="7.4" height="7.4"/></g>
<g fill="none" stroke="#ff0000" stroke-width="3.0"><circle cx="742.7" cy="567.55" r="4.7"/><circle cx="758.5" cy="567.55" r="4.7"/><circle cx="761.2" cy="567.55" r="4.7"/><circle cx="764" cy="567.55" r="4.7"/><circle cx="766.7" cy="567.55" r="4.7"/><circle cx="772.2" cy="567.55" r="4.7"/><circle cx="792.8" cy="567.55" r="4.7"/><circle cx="809.3" cy="567.55" r="4.7"/><circle cx="812.1" cy="567.55" r="4.7"/><circle cx="814.8" cy="567.55" r="4.7"/><circle cx="818.3" cy="567.55" r="4.7"/><circle cx="826.1" cy="567.55" r="4.7"/><circle cx="849.9" cy="567.55" r="4.7"/><circle cx="853.3" cy="567.55" r="4.7"/><circle cx="856.7" cy="567.55" r="4.7"/><circle cx="884.9" cy="567.55" r="4.7"/><circle cx="905.5" cy="567.55" r="4.7"/><circle cx="919.3" cy="567.55" r="4.7"/><circle cx="950.9" cy="567.55" r="4.7"/><circle cx="1006.4" cy="567.55" r="4.7"/><circle cx="1027.8" cy="567.55" r="4.7"/><circle cx="1161.7" cy="567.55" r="4.7"/><circle cx="1223.9" cy="567.55" r="4.7"/><circle cx="1231.5" cy="567.55" r="4.7"/></g>
<path d="M734.7 931.92 L738.84 931.28 L742.98 930.63 L747.13 929.96 L751.27 929.28 L755.41 928.58 L759.55 927.86 L763.7 927.13 L767.84 926.39 L771.98 925.62 L776.12 924.84 L780.26 924.05 L784.41 923.23 L788.55 922.4 L792.69 921.55 L796.83 920.68 L800.98 919.79 L805.12 918.89 L809.26 917.96 L813.4 917.02 L817.55 916.05 L821.69 915.07 L825.83 914.07 L829.97 913.04 L834.11 912 L838.26 910.93 L842.4 909.84 L846.54 908.73 L850.68 907.6 L854.83 906.45 L858.97 905.27 L863.11 904.07 L867.25 902.85 L871.39 901.61 L875.54 900.34 L879.68 899.05 L883.82 897.73 L887.96 896.39 L892.11 895.03 L896.25 893.64 L900.39 892.23 L904.53 890.79 L908.67 889.33 L912.82 887.84 L916.96 886.33 L921.1 884.8 L925.24 883.24 L929.39 881.65 L933.53 880.04 L937.67 878.4 L941.81 876.74 L945.96 875.05 L950.1 873.33 L954.24 871.59 L958.38 869.83 L962.52 868.04 L966.67 866.22 L970.81 864.38 L974.95 862.51 L979.09 860.62 L983.24 858.71 L987.38 856.77 L991.52 854.8 L995.66 852.81 L999.8 850.8 L1003.95 848.76 L1008.09 846.7 L1012.23 844.62 L1016.37 842.51 L1020.52 840.38 L1024.66 838.23 L1028.8 836.06 L1032.94 833.87 L1037.09 831.65 L1041.23 829.42 L1045.37 827.16 L1049.51 824.89 L1053.65 822.59 L1057.8 820.28 L1061.94 817.95 L1066.08 815.61 L1070.22 813.24 L1074.37 810.86 L1078.51 808.47 L1082.65 806.06 L1086.79 803.64 L1090.93 801.2 L1095.08 798.76 L1099.22 796.3 L1103.36 793.83 L1107.5 791.35 L1111.65 788.86 L1115.79 786.36 L1119.93 783.85 L1124.07 781.34 L1128.21 778.82 L1132.36 776.29 L1136.5 773.76 L1140.64 771.23 L1144.78 768.7 L1148.93 766.16 L1153.07 763.62 L1157.21 761.08 L1161.35 758.54 L1165.5 756.01 L1169.64 753.47 L1173.78 750.94 L1177.92 748.42 L1182.06 745.89 L1186.21 743.38 L1190.35 740.87 L1194.49 738.37 L1198.63 735.87 L1202.78 733.39 L1206.92 730.91 L1211.06 728.45 L1215.2 726 L1219.34 723.56 L1223.49 721.13 L1227.63 718.72 L1231.77 716.32" stroke="#000" stroke-width="3.3" fill="none"/><path d="M734.7 910.46 L738.84 909.81 L742.98 909.14 L747.13 908.46 L751.27 907.76 L755.41 907.05 L759.55 906.31 L763.7 905.56 L767.84 904.79 L771.98 903.99 L776.12 903.18 L780.26 902.34 L784.41 901.48 L788.55 900.59 L792.69 899.68 L796.83 898.74 L800.98 897.77 L805.12 896.77 L809.26 895.74 L813.4 894.67 L817.55 893.57 L821.69 892.43 L825.83 891.26 L829.97 890.04 L834.11 888.78 L838.26 887.48 L842.4 886.14 L846.54 884.74 L850.68 883.3 L854.83 881.81 L858.97 880.27 L863.11 878.67 L867.25 877.01 L871.39 875.31 L875.54 873.54 L879.68 871.71 L883.82 869.82 L887.96 867.88 L892.11 865.87 L896.25 863.79 L900.39 861.65 L904.53 859.45 L908.67 857.19 L912.82 854.85 L916.96 852.46 L921.1 850 L925.24 847.47 L929.39 844.88 L933.53 842.22 L937.67 839.51 L941.81 836.73 L945.96 833.88 L950.1 830.98 L954.24 828.02 L958.38 825 L962.52 821.92 L966.67 818.79 L970.81 815.61 L974.95 812.37 L979.09 809.09 L983.24 805.76 L987.38 802.38 L991.52 798.96 L995.66 795.5 L999.8 792.01 L1003.95 788.48 L1008.09 784.91 L1012.23 781.32 L1016.37 777.7 L1020.52 774.06 L1024.66 770.4 L1028.8 766.72 L1032.94 763.03 L1037.09 759.33 L1041.23 755.62 L1045.37 751.9 L1049.51 748.19 L1053.65 744.47 L1057.8 740.76 L1061.94 737.06 L1066.08 733.37 L1070.22 729.69 L1074.37 726.03 L1078.51 722.39 L1082.65 718.78 L1086.79 715.19 L1090.93 711.62 L1095.08 708.09 L1099.22 704.59 L1103.36 701.13 L1107.5 697.71 L1111.65 694.33 L1115.79 690.98 L1119.93 687.69 L1124.07 684.44 L1128.21 681.23 L1132.36 678.08 L1136.5 674.97 L1140.64 671.92 L1144.78 668.92 L1148.93 665.98 L1153.07 663.09 L1157.21 660.25 L1161.35 657.47 L1165.5 654.75 L1169.64 652.09 L1173.78 649.48 L1177.92 646.93 L1182.06 644.44 L1186.21 642.01 L1190.35 639.64 L1194.49 637.32 L1198.63 635.06 L1202.78 632.86 L1206.92 630.71 L1211.06 628.62 L1215.2 626.59 L1219.34 624.61 L1223.49 622.68 L1227.63 620.81 L1231.77 619" stroke="#000" stroke-width="3.0" fill="none" stroke-dasharray="14 12" stroke-dashoffset="-2"/><path d="M734.7 944.3 L738.84 943.82 L742.98 943.32 L747.13 942.81 L751.27 942.29 L755.41 941.75 L759.55 941.2 L763.7 940.63 L767.84 940.05 L771.98 939.45 L776.12 938.84 L780.26 938.21 L784.41 937.57 L788.55 936.91 L792.69 936.25 L796.83 935.56 L800.98 934.87 L805.12 934.16 L809.26 933.43 L813.4 932.7 L817.55 931.95 L821.69 931.2 L825.83 930.43 L829.97 929.65 L834.11 928.86 L838.26 928.06 L842.4 927.26 L846.54 926.45 L850.68 925.63 L854.83 924.8 L858.97 923.97 L863.11 923.13 L867.25 922.29 L871.39 921.45 L875.54 920.6 L879.68 919.75 L883.82 918.9 L887.96 918.05 L892.11 917.2 L896.25 916.35 L900.39 915.5 L904.53 914.65 L908.67 913.8 L912.82 912.95 L916.96 912.1 L921.1 911.25 L925.24 910.41 L929.39 909.56 L933.53 908.72 L937.67 907.88 L941.81 907.05 L945.96 906.21 L950.1 905.37 L954.24 904.54 L958.38 903.71 L962.52 902.88 L966.67 902.05 L970.81 901.23 L974.95 900.4 L979.09 899.57 L983.24 898.75 L987.38 897.93 L991.52 897.1 L995.66 896.28 L999.8 895.46 L1003.95 894.63 L1008.09 893.81 L1012.23 892.99 L1016.37 892.17 L1020.52 891.34 L1024.66 890.52 L1028.8 889.69 L1032.94 888.86 L1037.09 888.04 L1041.23 887.21 L1045.37 886.38 L1049.51 885.55 L1053.65 884.71 L1057.8 883.88 L1061.94 883.04 L1066.08 882.2 L1070.22 881.36 L1074.37 880.52 L1078.51 879.67 L1082.65 878.83 L1086.79 877.98 L1090.93 877.13 L1095.08 876.27 L1099.22 875.42 L1103.36 874.56 L1107.5 873.69 L1111.65 872.83 L1115.79 871.96 L1119.93 871.09 L1124.07 870.22 L1128.21 869.34 L1132.36 868.46 L1136.5 867.58 L1140.64 866.7 L1144.78 865.81 L1148.93 864.92 L1153.07 864.02 L1157.21 863.12 L1161.35 862.22 L1165.5 861.32 L1169.64 860.41 L1173.78 859.5 L1177.92 858.59 L1182.06 857.67 L1186.21 856.75 L1190.35 855.83 L1194.49 854.9 L1198.63 853.97 L1202.78 853.04 L1206.92 852.1 L1211.06 851.16 L1215.2 850.22 L1219.34 849.27 L1223.49 848.32 L1227.63 847.37 L1231.77 846.41" stroke="#000" stroke-width="3.0" fill="none" stroke-dasharray="14 12" stroke-dashoffset="-2"/>
<g font-size="27.2" fill="#222222"><text x="734.7" y="991.25" text-anchor="middle">0</text><text x="880" y="991.25" text-anchor="middle">1000</text><text x="1025.3" y="991.25" text-anchor="middle">2000</text><text x="1170.6" y="991.25" text-anchor="middle">3000</text><text x="725.2" y="966.95" text-anchor="end">0</text><text x="725.2" y="888.91" text-anchor="end">0.2</text><text x="725.2" y="810.87" text-anchor="end">0.4</text><text x="725.2" y="732.83" text-anchor="end">0.6</text><text x="725.2" y="654.79" text-anchor="end">0.8</text><text x="725.2" y="576.75" text-anchor="end">1</text></g>
<text x="983.2" y="1025.6" font-size="30.5" fill="#222222" text-anchor="middle">Max Total Force (N/m)</text>
<text transform="translate(674.7 763.25) rotate(-90)" font-size="30" fill="#222222" text-anchor="middle">Uninhabitable Probability</text>
<text x="761.5" y="618" font-size="40.8" fill="#000">(e)</text>
</g>
</svg></body></html>
